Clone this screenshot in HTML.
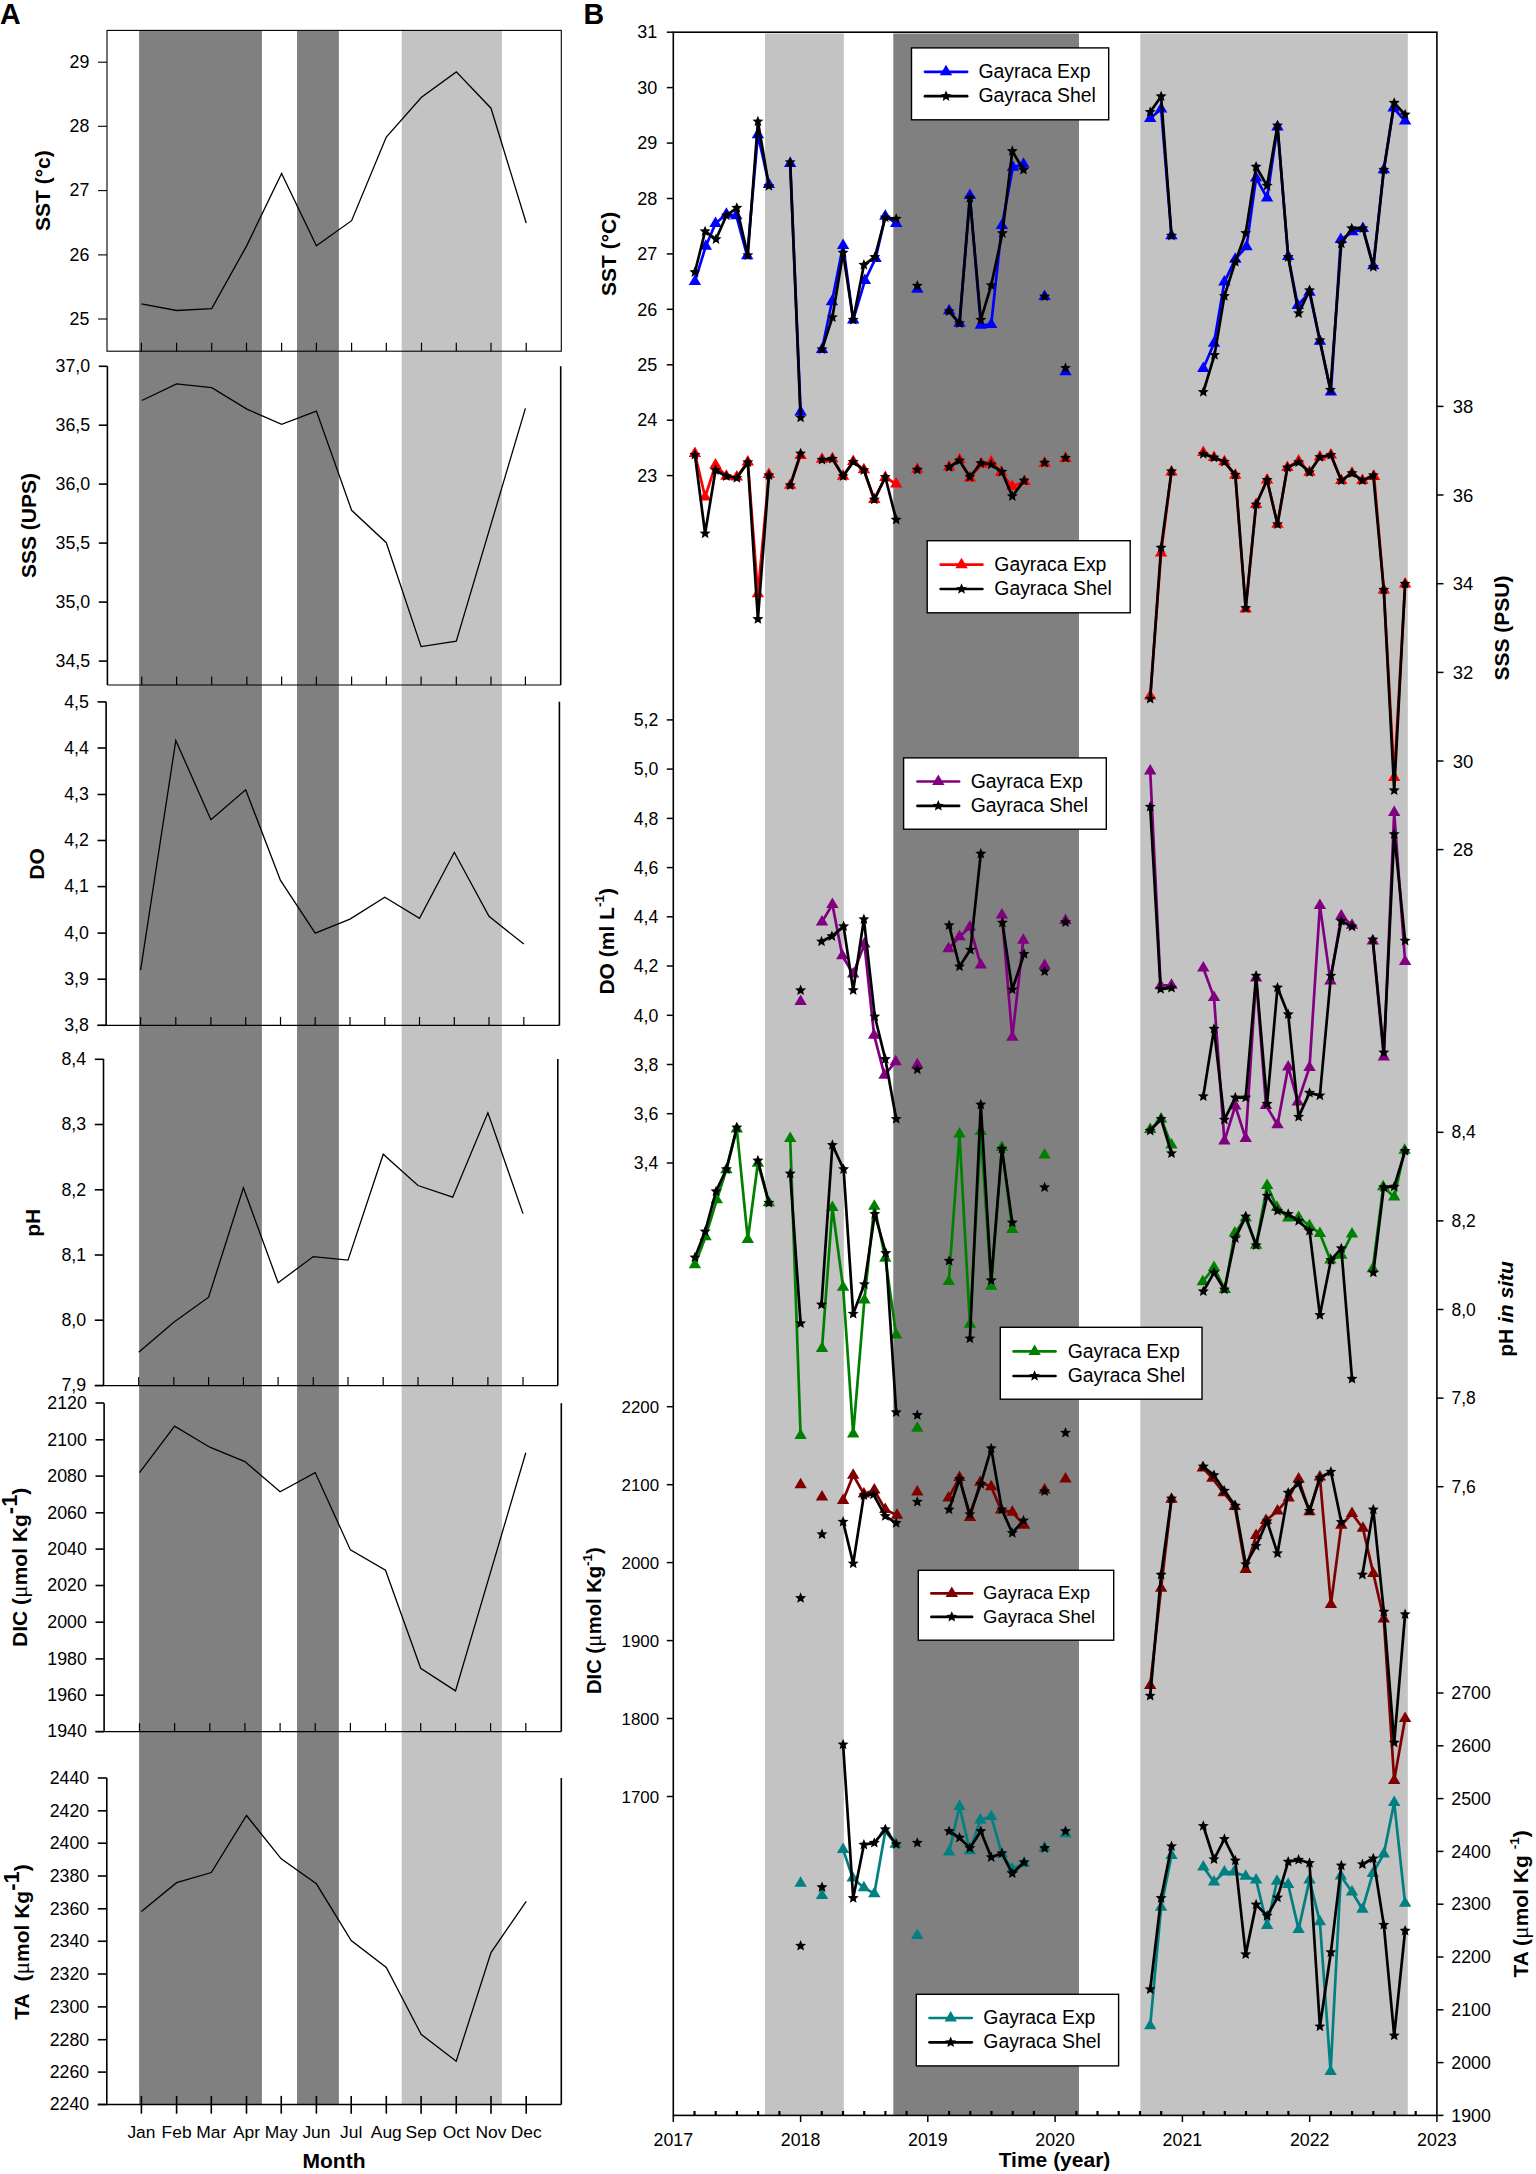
<!DOCTYPE html>
<html><head><meta charset="utf-8"><title>Figure</title>
<style>html,body{margin:0;padding:0;background:#fff}svg{display:block}</style></head>
<body>
<svg width="1536" height="2174" viewBox="0 0 1536 2174" font-family='"Liberation Sans", sans-serif'>
<rect width="1536" height="2174" fill="#fff"/>
<g id="panelA">
<rect x="139.1" y="30" width="122.8" height="2074.5" fill="#808080"/>
<rect x="297.0" y="31" width="41.9" height="2073.5" fill="#808080"/>
<rect x="401.7" y="30" width="100.2" height="2074.5" fill="#c3c3c3"/>
<rect x="107.0" y="30.4" width="454.3" height="320.8" fill="none" stroke="#000" stroke-width="1.1"/>
<line x1="98.0" x2="107.0" y1="62.2" y2="62.2" stroke="#000" stroke-width="1.1"/>
<text x="89.4" y="68.0" font-size="17.8" text-anchor="end">29</text>
<line x1="98.0" x2="107.0" y1="126.3" y2="126.3" stroke="#000" stroke-width="1.1"/>
<text x="89.4" y="132.1" font-size="17.8" text-anchor="end">28</text>
<line x1="98.0" x2="107.0" y1="190.6" y2="190.6" stroke="#000" stroke-width="1.1"/>
<text x="89.4" y="196.4" font-size="17.8" text-anchor="end">27</text>
<line x1="98.0" x2="107.0" y1="254.9" y2="254.9" stroke="#000" stroke-width="1.1"/>
<text x="89.4" y="260.7" font-size="17.8" text-anchor="end">26</text>
<line x1="98.0" x2="107.0" y1="319.0" y2="319.0" stroke="#000" stroke-width="1.1"/>
<text x="89.4" y="324.8" font-size="17.8" text-anchor="end">25</text>
<line x1="141.4" x2="141.4" y1="342.7" y2="351.2" stroke="#000" stroke-width="1.2"/>
<line x1="176.6" x2="176.6" y1="342.7" y2="351.2" stroke="#000" stroke-width="1.2"/>
<line x1="211.7" x2="211.7" y1="342.7" y2="351.2" stroke="#000" stroke-width="1.2"/>
<line x1="246.5" x2="246.5" y1="342.7" y2="351.2" stroke="#000" stroke-width="1.2"/>
<line x1="281.6" x2="281.6" y1="342.7" y2="351.2" stroke="#000" stroke-width="1.2"/>
<line x1="316.4" x2="316.4" y1="342.7" y2="351.2" stroke="#000" stroke-width="1.2"/>
<line x1="351.6" x2="351.6" y1="342.7" y2="351.2" stroke="#000" stroke-width="1.2"/>
<line x1="386.3" x2="386.3" y1="342.7" y2="351.2" stroke="#000" stroke-width="1.2"/>
<line x1="421.5" x2="421.5" y1="342.7" y2="351.2" stroke="#000" stroke-width="1.2"/>
<line x1="456.3" x2="456.3" y1="342.7" y2="351.2" stroke="#000" stroke-width="1.2"/>
<line x1="491.0" x2="491.0" y1="342.7" y2="351.2" stroke="#000" stroke-width="1.2"/>
<line x1="526.2" x2="526.2" y1="342.7" y2="351.2" stroke="#000" stroke-width="1.2"/>
<path d="M141.4 303.9 L176.6 310.5 L211.7 308.6 L246.5 246.1 L281.6 173.4 L316.4 245.7 L351.6 220.7 L386.3 137.1 L421.5 97.3 L456.3 71.9 L491.0 108.2 L526.2 223.0" fill="none" stroke="#000" stroke-width="1.3" stroke-linejoin="miter"/>
<path d="M107.4 366.2V685.0M560.7 685.0V366.2" fill="none" stroke="#000" stroke-width="1.6"/>
<line x1="107.4" x2="560.7" y1="685.0" y2="685.0" stroke="#000" stroke-width="1.2"/>
<line x1="98.8" x2="107.4" y1="366.3" y2="366.3" stroke="#000" stroke-width="1.6"/>
<text x="90.2" y="372.1" font-size="17.8" text-anchor="end">37,0</text>
<line x1="98.8" x2="107.4" y1="425.2" y2="425.2" stroke="#000" stroke-width="1.6"/>
<text x="90.2" y="431.0" font-size="17.8" text-anchor="end">36,5</text>
<line x1="98.8" x2="107.4" y1="484.1" y2="484.1" stroke="#000" stroke-width="1.6"/>
<text x="90.2" y="489.9" font-size="17.8" text-anchor="end">36,0</text>
<line x1="98.8" x2="107.4" y1="543.1" y2="543.1" stroke="#000" stroke-width="1.6"/>
<text x="90.2" y="548.9" font-size="17.8" text-anchor="end">35,5</text>
<line x1="98.8" x2="107.4" y1="602.1" y2="602.1" stroke="#000" stroke-width="1.6"/>
<text x="90.2" y="607.9" font-size="17.8" text-anchor="end">35,0</text>
<line x1="98.8" x2="107.4" y1="661.1" y2="661.1" stroke="#000" stroke-width="1.6"/>
<text x="90.2" y="666.9" font-size="17.8" text-anchor="end">34,5</text>
<line x1="141.8" x2="141.8" y1="676.5" y2="685.0" stroke="#000" stroke-width="1.2"/>
<line x1="176.6" x2="176.6" y1="676.5" y2="685.0" stroke="#000" stroke-width="1.2"/>
<line x1="211.7" x2="211.7" y1="676.5" y2="685.0" stroke="#000" stroke-width="1.2"/>
<line x1="246.9" x2="246.9" y1="676.5" y2="685.0" stroke="#000" stroke-width="1.2"/>
<line x1="281.6" x2="281.6" y1="676.5" y2="685.0" stroke="#000" stroke-width="1.2"/>
<line x1="316.4" x2="316.4" y1="676.5" y2="685.0" stroke="#000" stroke-width="1.2"/>
<line x1="351.6" x2="351.6" y1="676.5" y2="685.0" stroke="#000" stroke-width="1.2"/>
<line x1="386.3" x2="386.3" y1="676.5" y2="685.0" stroke="#000" stroke-width="1.2"/>
<line x1="421.1" x2="421.1" y1="676.5" y2="685.0" stroke="#000" stroke-width="1.2"/>
<line x1="456.3" x2="456.3" y1="676.5" y2="685.0" stroke="#000" stroke-width="1.2"/>
<line x1="491.0" x2="491.0" y1="676.5" y2="685.0" stroke="#000" stroke-width="1.2"/>
<line x1="525.4" x2="525.4" y1="676.5" y2="685.0" stroke="#000" stroke-width="1.2"/>
<path d="M141.8 400.5 L176.6 383.8 L211.7 387.7 L246.9 409.1 L281.6 424.4 L316.4 411.1 L351.6 510.3 L386.3 542.7 L421.1 646.6 L456.3 641.2 L525.4 408.4" fill="none" stroke="#000" stroke-width="1.3" stroke-linejoin="miter"/>
<path d="M106.1 701.7V1025.4M559.4 1025.4V701.7" fill="none" stroke="#000" stroke-width="1.6"/>
<line x1="97.5" x2="559.4" y1="1025.4" y2="1025.4" stroke="#000" stroke-width="1.2"/>
<line x1="97.5" x2="106.1" y1="701.9" y2="701.9" stroke="#000" stroke-width="1.6"/>
<text x="88.9" y="707.7" font-size="17.8" text-anchor="end">4,5</text>
<line x1="97.5" x2="106.1" y1="748.0" y2="748.0" stroke="#000" stroke-width="1.6"/>
<text x="88.9" y="753.8" font-size="17.8" text-anchor="end">4,4</text>
<line x1="97.5" x2="106.1" y1="794.5" y2="794.5" stroke="#000" stroke-width="1.6"/>
<text x="88.9" y="800.3" font-size="17.8" text-anchor="end">4,3</text>
<line x1="97.5" x2="106.1" y1="840.5" y2="840.5" stroke="#000" stroke-width="1.6"/>
<text x="88.9" y="846.3" font-size="17.8" text-anchor="end">4,2</text>
<line x1="97.5" x2="106.1" y1="886.6" y2="886.6" stroke="#000" stroke-width="1.6"/>
<text x="88.9" y="892.4" font-size="17.8" text-anchor="end">4,1</text>
<line x1="97.5" x2="106.1" y1="933.1" y2="933.1" stroke="#000" stroke-width="1.6"/>
<text x="88.9" y="938.9" font-size="17.8" text-anchor="end">4,0</text>
<line x1="97.5" x2="106.1" y1="979.2" y2="979.2" stroke="#000" stroke-width="1.6"/>
<text x="88.9" y="985.0" font-size="17.8" text-anchor="end">3,9</text>
<line x1="97.5" x2="106.1" y1="1025.3" y2="1025.3" stroke="#000" stroke-width="1.6"/>
<text x="88.9" y="1031.1" font-size="17.8" text-anchor="end">3,8</text>
<line x1="140.6" x2="140.6" y1="1016.9000000000001" y2="1025.4" stroke="#000" stroke-width="1.2"/>
<line x1="175.8" x2="175.8" y1="1016.9000000000001" y2="1025.4" stroke="#000" stroke-width="1.2"/>
<line x1="210.9" x2="210.9" y1="1016.9000000000001" y2="1025.4" stroke="#000" stroke-width="1.2"/>
<line x1="245.7" x2="245.7" y1="1016.9000000000001" y2="1025.4" stroke="#000" stroke-width="1.2"/>
<line x1="280.5" x2="280.5" y1="1016.9000000000001" y2="1025.4" stroke="#000" stroke-width="1.2"/>
<line x1="315.2" x2="315.2" y1="1016.9000000000001" y2="1025.4" stroke="#000" stroke-width="1.2"/>
<line x1="350.0" x2="350.0" y1="1016.9000000000001" y2="1025.4" stroke="#000" stroke-width="1.2"/>
<line x1="384.8" x2="384.8" y1="1016.9000000000001" y2="1025.4" stroke="#000" stroke-width="1.2"/>
<line x1="419.5" x2="419.5" y1="1016.9000000000001" y2="1025.4" stroke="#000" stroke-width="1.2"/>
<line x1="454.3" x2="454.3" y1="1016.9000000000001" y2="1025.4" stroke="#000" stroke-width="1.2"/>
<line x1="489.0" x2="489.0" y1="1016.9000000000001" y2="1025.4" stroke="#000" stroke-width="1.2"/>
<line x1="523.8" x2="523.8" y1="1016.9000000000001" y2="1025.4" stroke="#000" stroke-width="1.2"/>
<path d="M140.6 970.2 L175.8 740.5 L210.9 819.8 L245.7 789.8 L280.5 880.4 L315.2 933.1 L350.0 919.1 L384.8 897.2 L419.5 918.3 L454.3 852.3 L489.0 916.3 L523.8 944.1" fill="none" stroke="#000" stroke-width="1.3" stroke-linejoin="miter"/>
<path d="M103.5 1059.1V1385.6M557.8 1385.6V1059.1" fill="none" stroke="#000" stroke-width="1.6"/>
<line x1="94.8" x2="557.8" y1="1385.6" y2="1385.6" stroke="#000" stroke-width="1.2"/>
<line x1="94.8" x2="103.5" y1="1059.3" y2="1059.3" stroke="#000" stroke-width="1.6"/>
<text x="86.2" y="1065.1" font-size="17.8" text-anchor="end">8,4</text>
<line x1="94.8" x2="103.5" y1="1124.5" y2="1124.5" stroke="#000" stroke-width="1.6"/>
<text x="86.2" y="1130.3" font-size="17.8" text-anchor="end">8,3</text>
<line x1="94.8" x2="103.5" y1="1189.8" y2="1189.8" stroke="#000" stroke-width="1.6"/>
<text x="86.2" y="1195.6" font-size="17.8" text-anchor="end">8,2</text>
<line x1="94.8" x2="103.5" y1="1255.0" y2="1255.0" stroke="#000" stroke-width="1.6"/>
<text x="86.2" y="1260.8" font-size="17.8" text-anchor="end">8,1</text>
<line x1="94.8" x2="103.5" y1="1320.2" y2="1320.2" stroke="#000" stroke-width="1.6"/>
<text x="86.2" y="1326.0" font-size="17.8" text-anchor="end">8,0</text>
<line x1="94.8" x2="103.5" y1="1385.5" y2="1385.5" stroke="#000" stroke-width="1.6"/>
<text x="86.2" y="1391.3" font-size="17.8" text-anchor="end">7,9</text>
<line x1="138.7" x2="138.7" y1="1377.1" y2="1385.6" stroke="#000" stroke-width="1.2"/>
<line x1="173.8" x2="173.8" y1="1377.1" y2="1385.6" stroke="#000" stroke-width="1.2"/>
<line x1="208.6" x2="208.6" y1="1377.1" y2="1385.6" stroke="#000" stroke-width="1.2"/>
<line x1="243.4" x2="243.4" y1="1377.1" y2="1385.6" stroke="#000" stroke-width="1.2"/>
<line x1="278.1" x2="278.1" y1="1377.1" y2="1385.6" stroke="#000" stroke-width="1.2"/>
<line x1="313.3" x2="313.3" y1="1377.1" y2="1385.6" stroke="#000" stroke-width="1.2"/>
<line x1="348.0" x2="348.0" y1="1377.1" y2="1385.6" stroke="#000" stroke-width="1.2"/>
<line x1="383.2" x2="383.2" y1="1377.1" y2="1385.6" stroke="#000" stroke-width="1.2"/>
<line x1="418.0" x2="418.0" y1="1377.1" y2="1385.6" stroke="#000" stroke-width="1.2"/>
<line x1="452.7" x2="452.7" y1="1377.1" y2="1385.6" stroke="#000" stroke-width="1.2"/>
<line x1="487.9" x2="487.9" y1="1377.1" y2="1385.6" stroke="#000" stroke-width="1.2"/>
<line x1="523.0" x2="523.0" y1="1377.1" y2="1385.6" stroke="#000" stroke-width="1.2"/>
<path d="M138.7 1352.3 L173.8 1322.2 L208.6 1297.2 L243.4 1187.8 L278.1 1282.7 L313.3 1256.6 L348.0 1260.1 L383.2 1154.2 L418.0 1185.5 L452.7 1197.2 L487.9 1112.8 L523.0 1213.6" fill="none" stroke="#000" stroke-width="1.3" stroke-linejoin="miter"/>
<path d="M104.1 1403.2V1731.6M561.3 1731.6V1403.2" fill="none" stroke="#000" stroke-width="1.6"/>
<line x1="95.5" x2="561.3" y1="1731.6" y2="1731.6" stroke="#000" stroke-width="1.2"/>
<line x1="95.5" x2="104.1" y1="1403.0" y2="1403.0" stroke="#000" stroke-width="1.6"/>
<text x="86.9" y="1408.8" font-size="17.8" text-anchor="end">2120</text>
<line x1="95.5" x2="104.1" y1="1439.8" y2="1439.8" stroke="#000" stroke-width="1.6"/>
<text x="86.9" y="1445.6" font-size="17.8" text-anchor="end">2100</text>
<line x1="95.5" x2="104.1" y1="1476.1" y2="1476.1" stroke="#000" stroke-width="1.6"/>
<text x="86.9" y="1481.9" font-size="17.8" text-anchor="end">2080</text>
<line x1="95.5" x2="104.1" y1="1512.8" y2="1512.8" stroke="#000" stroke-width="1.6"/>
<text x="86.9" y="1518.6" font-size="17.8" text-anchor="end">2060</text>
<line x1="95.5" x2="104.1" y1="1549.1" y2="1549.1" stroke="#000" stroke-width="1.6"/>
<text x="86.9" y="1554.9" font-size="17.8" text-anchor="end">2040</text>
<line x1="95.5" x2="104.1" y1="1585.5" y2="1585.5" stroke="#000" stroke-width="1.6"/>
<text x="86.9" y="1591.3" font-size="17.8" text-anchor="end">2020</text>
<line x1="95.5" x2="104.1" y1="1622.2" y2="1622.2" stroke="#000" stroke-width="1.6"/>
<text x="86.9" y="1628.0" font-size="17.8" text-anchor="end">2000</text>
<line x1="95.5" x2="104.1" y1="1658.9" y2="1658.9" stroke="#000" stroke-width="1.6"/>
<text x="86.9" y="1664.7" font-size="17.8" text-anchor="end">1980</text>
<line x1="95.5" x2="104.1" y1="1695.2" y2="1695.2" stroke="#000" stroke-width="1.6"/>
<text x="86.9" y="1701.0" font-size="17.8" text-anchor="end">1960</text>
<line x1="95.5" x2="104.1" y1="1731.6" y2="1731.6" stroke="#000" stroke-width="1.6"/>
<text x="86.9" y="1737.4" font-size="17.8" text-anchor="end">1940</text>
<line x1="139.5" x2="139.5" y1="1723.1" y2="1731.6" stroke="#000" stroke-width="1.2"/>
<line x1="174.6" x2="174.6" y1="1723.1" y2="1731.6" stroke="#000" stroke-width="1.2"/>
<line x1="209.8" x2="209.8" y1="1723.1" y2="1731.6" stroke="#000" stroke-width="1.2"/>
<line x1="244.9" x2="244.9" y1="1723.1" y2="1731.6" stroke="#000" stroke-width="1.2"/>
<line x1="280.1" x2="280.1" y1="1723.1" y2="1731.6" stroke="#000" stroke-width="1.2"/>
<line x1="315.2" x2="315.2" y1="1723.1" y2="1731.6" stroke="#000" stroke-width="1.2"/>
<line x1="350.4" x2="350.4" y1="1723.1" y2="1731.6" stroke="#000" stroke-width="1.2"/>
<line x1="385.5" x2="385.5" y1="1723.1" y2="1731.6" stroke="#000" stroke-width="1.2"/>
<line x1="420.7" x2="420.7" y1="1723.1" y2="1731.6" stroke="#000" stroke-width="1.2"/>
<line x1="455.5" x2="455.5" y1="1723.1" y2="1731.6" stroke="#000" stroke-width="1.2"/>
<line x1="490.6" x2="490.6" y1="1723.1" y2="1731.6" stroke="#000" stroke-width="1.2"/>
<line x1="525.8" x2="525.8" y1="1723.1" y2="1731.6" stroke="#000" stroke-width="1.2"/>
<path d="M139.5 1472.6 L174.6 1426.1 L209.8 1447.2 L244.9 1461.6 L280.1 1491.7 L315.2 1472.6 L350.4 1549.9 L385.5 1570.2 L420.7 1668.3 L455.5 1690.9 L525.8 1452.7" fill="none" stroke="#000" stroke-width="1.3" stroke-linejoin="miter"/>
<path d="M106.8 1778.1V2104.5M561.3 2104.5V1778.1" fill="none" stroke="#000" stroke-width="1.6"/>
<line x1="97.8" x2="561.3" y1="2104.5" y2="2104.5" stroke="#000" stroke-width="1.6"/>
<line x1="97.8" x2="106.8" y1="1778.0" y2="1778.0" stroke="#000" stroke-width="1.6"/>
<text x="89.2" y="1783.8" font-size="17.8" text-anchor="end">2440</text>
<line x1="97.8" x2="106.8" y1="1810.8" y2="1810.8" stroke="#000" stroke-width="1.6"/>
<text x="89.2" y="1816.6" font-size="17.8" text-anchor="end">2420</text>
<line x1="97.8" x2="106.8" y1="1843.2" y2="1843.2" stroke="#000" stroke-width="1.6"/>
<text x="89.2" y="1849.0" font-size="17.8" text-anchor="end">2400</text>
<line x1="97.8" x2="106.8" y1="1876.0" y2="1876.0" stroke="#000" stroke-width="1.6"/>
<text x="89.2" y="1881.8" font-size="17.8" text-anchor="end">2380</text>
<line x1="97.8" x2="106.8" y1="1908.8" y2="1908.8" stroke="#000" stroke-width="1.6"/>
<text x="89.2" y="1914.6" font-size="17.8" text-anchor="end">2360</text>
<line x1="97.8" x2="106.8" y1="1941.25" y2="1941.25" stroke="#000" stroke-width="1.6"/>
<text x="89.2" y="1947.0" font-size="17.8" text-anchor="end">2340</text>
<line x1="97.8" x2="106.8" y1="1974.0" y2="1974.0" stroke="#000" stroke-width="1.6"/>
<text x="89.2" y="1979.8" font-size="17.8" text-anchor="end">2320</text>
<line x1="97.8" x2="106.8" y1="2006.9" y2="2006.9" stroke="#000" stroke-width="1.6"/>
<text x="89.2" y="2012.7" font-size="17.8" text-anchor="end">2300</text>
<line x1="97.8" x2="106.8" y1="2039.7" y2="2039.7" stroke="#000" stroke-width="1.6"/>
<text x="89.2" y="2045.5" font-size="17.8" text-anchor="end">2280</text>
<line x1="97.8" x2="106.8" y1="2072.1" y2="2072.1" stroke="#000" stroke-width="1.6"/>
<text x="89.2" y="2077.9" font-size="17.8" text-anchor="end">2260</text>
<line x1="97.8" x2="106.8" y1="2104.5" y2="2104.5" stroke="#000" stroke-width="1.6"/>
<text x="89.2" y="2110.3" font-size="17.8" text-anchor="end">2240</text>
<line x1="141.4" x2="141.4" y1="2095.9" y2="2113.7" stroke="#000" stroke-width="1.6"/>
<line x1="176.6" x2="176.6" y1="2095.9" y2="2113.7" stroke="#000" stroke-width="1.6"/>
<line x1="211.3" x2="211.3" y1="2095.9" y2="2113.7" stroke="#000" stroke-width="1.6"/>
<line x1="246.5" x2="246.5" y1="2095.9" y2="2113.7" stroke="#000" stroke-width="1.6"/>
<line x1="281.25" x2="281.25" y1="2095.9" y2="2113.7" stroke="#000" stroke-width="1.6"/>
<line x1="316.4" x2="316.4" y1="2095.9" y2="2113.7" stroke="#000" stroke-width="1.6"/>
<line x1="351.2" x2="351.2" y1="2095.9" y2="2113.7" stroke="#000" stroke-width="1.6"/>
<line x1="386.3" x2="386.3" y1="2095.9" y2="2113.7" stroke="#000" stroke-width="1.6"/>
<line x1="421.1" x2="421.1" y1="2095.9" y2="2113.7" stroke="#000" stroke-width="1.6"/>
<line x1="456.25" x2="456.25" y1="2095.9" y2="2113.7" stroke="#000" stroke-width="1.6"/>
<line x1="491.0" x2="491.0" y1="2095.9" y2="2113.7" stroke="#000" stroke-width="1.6"/>
<line x1="526.2" x2="526.2" y1="2095.9" y2="2113.7" stroke="#000" stroke-width="1.6"/>
<path d="M141.4 1911.6 L176.6 1882.7 L211.3 1872.5 L246.5 1815.5 L281.2 1858.8 L316.4 1883.8 L351.2 1940.5 L386.3 1967.4 L421.1 2034.2 L456.2 2061.2 L491.0 1952.6 L526.2 1901.4" fill="none" stroke="#000" stroke-width="1.3" stroke-linejoin="miter"/>
<text transform="translate(49.7 190.6) rotate(-90)" font-size="21" font-weight="bold" text-anchor="middle">SST (°c)</text>
<text transform="translate(36 525.5) rotate(-90)" font-size="21" font-weight="bold" text-anchor="middle">SSS (UPS)</text>
<text transform="translate(44.1 864) rotate(-90)" font-size="21" font-weight="bold" text-anchor="middle">DO</text>
<text transform="translate(40.2 1222.8) rotate(-90)" font-size="21" font-weight="bold" text-anchor="middle">pH</text>
<text transform="translate(27.1 1567.3) rotate(-90)" font-size="21" font-weight="bold" text-anchor="middle">DIC (<tspan font-family='"Liberation Serif", "DejaVu Serif", serif' font-weight="normal" font-size="23.5">μ</tspan>mol Kg<tspan dy="-10.3" font-size="22">-1</tspan><tspan dy="10.3">)</tspan></text>
<text transform="translate(29.3 1942) rotate(-90)" font-size="21" font-weight="bold" text-anchor="middle">TA&#160;&#160;(<tspan font-family='"Liberation Serif", "DejaVu Serif", serif' font-weight="normal" font-size="23.5">μ</tspan>mol Kg<tspan dy="-10.3" font-size="22">-1</tspan><tspan dy="10.3">)</tspan></text>
<text x="141.4" y="2138.1" font-size="17.4" text-anchor="middle">Jan</text>
<text x="176.6" y="2138.1" font-size="17.4" text-anchor="middle">Feb</text>
<text x="211.3" y="2138.1" font-size="17.4" text-anchor="middle">Mar</text>
<text x="246.5" y="2138.1" font-size="17.4" text-anchor="middle">Apr</text>
<text x="281.25" y="2138.1" font-size="17.4" text-anchor="middle">May</text>
<text x="316.4" y="2138.1" font-size="17.4" text-anchor="middle">Jun</text>
<text x="351.2" y="2138.1" font-size="17.4" text-anchor="middle">Jul</text>
<text x="386.3" y="2138.1" font-size="17.4" text-anchor="middle">Aug</text>
<text x="421.1" y="2138.1" font-size="17.4" text-anchor="middle">Sep</text>
<text x="456.25" y="2138.1" font-size="17.4" text-anchor="middle">Oct</text>
<text x="491.0" y="2138.1" font-size="17.4" text-anchor="middle">Nov</text>
<text x="526.2" y="2138.1" font-size="17.4" text-anchor="middle">Dec</text>
<text x="334" y="2168" font-size="21" font-weight="bold" text-anchor="middle">Month</text>
<text x="0" y="23.8" font-size="28.6" font-weight="bold">A</text>
</g>
<g id="panelB">
<rect x="765" y="33.5" width="78.8" height="2081.4" fill="#c3c3c3"/>
<rect x="893.3" y="33.5" width="185.7" height="2081.4" fill="#808080"/>
<rect x="1140.3" y="33.5" width="267.5" height="2081.4" fill="#c3c3c3"/>
<rect x="673.3" y="32.2" width="763.6" height="2083.2" fill="none" stroke="#000" stroke-width="1.6"/>
<line x1="666.8" x2="673.3" y1="32.2" y2="32.2" stroke="#000" stroke-width="1.5"/>
<text x="657.3" y="38.4" font-size="18.0" text-anchor="end">31</text>
<line x1="666.8" x2="673.3" y1="87.6" y2="87.6" stroke="#000" stroke-width="1.5"/>
<text x="657.3" y="93.8" font-size="18.0" text-anchor="end">30</text>
<line x1="666.8" x2="673.3" y1="143.1" y2="143.1" stroke="#000" stroke-width="1.5"/>
<text x="657.3" y="149.3" font-size="18.0" text-anchor="end">29</text>
<line x1="666.8" x2="673.3" y1="198.5" y2="198.5" stroke="#000" stroke-width="1.5"/>
<text x="657.3" y="204.7" font-size="18.0" text-anchor="end">28</text>
<line x1="666.8" x2="673.3" y1="253.9" y2="253.9" stroke="#000" stroke-width="1.5"/>
<text x="657.3" y="260.1" font-size="18.0" text-anchor="end">27</text>
<line x1="666.8" x2="673.3" y1="309.3" y2="309.3" stroke="#000" stroke-width="1.5"/>
<text x="657.3" y="315.5" font-size="18.0" text-anchor="end">26</text>
<line x1="666.8" x2="673.3" y1="364.8" y2="364.8" stroke="#000" stroke-width="1.5"/>
<text x="657.3" y="371.0" font-size="18.0" text-anchor="end">25</text>
<line x1="666.8" x2="673.3" y1="420.2" y2="420.2" stroke="#000" stroke-width="1.5"/>
<text x="657.3" y="426.4" font-size="18.0" text-anchor="end">24</text>
<line x1="666.8" x2="673.3" y1="475.6" y2="475.6" stroke="#000" stroke-width="1.5"/>
<text x="657.3" y="481.8" font-size="18.0" text-anchor="end">23</text>
<line x1="666.8" x2="673.3" y1="719.9" y2="719.9" stroke="#000" stroke-width="1.5"/>
<text x="658.3" y="726.1" font-size="17.7" text-anchor="end">5,2</text>
<line x1="666.8" x2="673.3" y1="769.1" y2="769.1" stroke="#000" stroke-width="1.5"/>
<text x="658.3" y="775.3" font-size="17.7" text-anchor="end">5,0</text>
<line x1="666.8" x2="673.3" y1="818.4" y2="818.4" stroke="#000" stroke-width="1.5"/>
<text x="658.3" y="824.6" font-size="17.7" text-anchor="end">4,8</text>
<line x1="666.8" x2="673.3" y1="867.6" y2="867.6" stroke="#000" stroke-width="1.5"/>
<text x="658.3" y="873.8" font-size="17.7" text-anchor="end">4,6</text>
<line x1="666.8" x2="673.3" y1="916.8" y2="916.8" stroke="#000" stroke-width="1.5"/>
<text x="658.3" y="923.0" font-size="17.7" text-anchor="end">4,4</text>
<line x1="666.8" x2="673.3" y1="966.0" y2="966.0" stroke="#000" stroke-width="1.5"/>
<text x="658.3" y="972.2" font-size="17.7" text-anchor="end">4,2</text>
<line x1="666.8" x2="673.3" y1="1015.3" y2="1015.3" stroke="#000" stroke-width="1.5"/>
<text x="658.3" y="1021.5" font-size="17.7" text-anchor="end">4,0</text>
<line x1="666.8" x2="673.3" y1="1064.5" y2="1064.5" stroke="#000" stroke-width="1.5"/>
<text x="658.3" y="1070.7" font-size="17.7" text-anchor="end">3,8</text>
<line x1="666.8" x2="673.3" y1="1113.7" y2="1113.7" stroke="#000" stroke-width="1.5"/>
<text x="658.3" y="1119.9" font-size="17.7" text-anchor="end">3,6</text>
<line x1="666.8" x2="673.3" y1="1163.0" y2="1163.0" stroke="#000" stroke-width="1.5"/>
<text x="658.3" y="1169.2" font-size="17.7" text-anchor="end">3,4</text>
<line x1="666.8" x2="673.3" y1="1406.7" y2="1406.7" stroke="#000" stroke-width="1.5"/>
<text x="659.1" y="1412.9" font-size="16.9" text-anchor="end">2200</text>
<line x1="666.8" x2="673.3" y1="1484.7" y2="1484.7" stroke="#000" stroke-width="1.5"/>
<text x="659.1" y="1490.9" font-size="16.9" text-anchor="end">2100</text>
<line x1="666.8" x2="673.3" y1="1562.6" y2="1562.6" stroke="#000" stroke-width="1.5"/>
<text x="659.1" y="1568.8" font-size="16.9" text-anchor="end">2000</text>
<line x1="666.8" x2="673.3" y1="1640.6" y2="1640.6" stroke="#000" stroke-width="1.5"/>
<text x="659.1" y="1646.8" font-size="16.9" text-anchor="end">1900</text>
<line x1="666.8" x2="673.3" y1="1718.5" y2="1718.5" stroke="#000" stroke-width="1.5"/>
<text x="659.1" y="1724.7" font-size="16.9" text-anchor="end">1800</text>
<line x1="666.8" x2="673.3" y1="1796.5" y2="1796.5" stroke="#000" stroke-width="1.5"/>
<text x="659.1" y="1802.7" font-size="16.9" text-anchor="end">1700</text>
<line x1="1436.9" x2="1443.5" y1="406.4" y2="406.4" stroke="#000" stroke-width="1.5"/>
<text x="1452.7" y="412.9" font-size="18.5" text-anchor="start">38</text>
<line x1="1436.9" x2="1443.5" y1="495.0" y2="495.0" stroke="#000" stroke-width="1.5"/>
<text x="1452.7" y="501.5" font-size="18.5" text-anchor="start">36</text>
<line x1="1436.9" x2="1443.5" y1="583.7" y2="583.7" stroke="#000" stroke-width="1.5"/>
<text x="1452.7" y="590.2" font-size="18.5" text-anchor="start">34</text>
<line x1="1436.9" x2="1443.5" y1="672.4" y2="672.4" stroke="#000" stroke-width="1.5"/>
<text x="1452.7" y="678.9" font-size="18.5" text-anchor="start">32</text>
<line x1="1436.9" x2="1443.5" y1="761.0" y2="761.0" stroke="#000" stroke-width="1.5"/>
<text x="1452.7" y="767.5" font-size="18.5" text-anchor="start">30</text>
<line x1="1436.9" x2="1443.5" y1="849.6" y2="849.6" stroke="#000" stroke-width="1.5"/>
<text x="1452.7" y="856.1" font-size="18.5" text-anchor="start">28</text>
<line x1="1436.9" x2="1443.5" y1="1132.3" y2="1132.3" stroke="#000" stroke-width="1.5"/>
<text x="1451.5" y="1138.3" font-size="17.5" text-anchor="start">8,4</text>
<line x1="1436.9" x2="1443.5" y1="1220.9" y2="1220.9" stroke="#000" stroke-width="1.5"/>
<text x="1451.5" y="1226.9" font-size="17.5" text-anchor="start">8,2</text>
<line x1="1436.9" x2="1443.5" y1="1309.5" y2="1309.5" stroke="#000" stroke-width="1.5"/>
<text x="1451.5" y="1315.5" font-size="17.5" text-anchor="start">8,0</text>
<line x1="1436.9" x2="1443.5" y1="1398.1" y2="1398.1" stroke="#000" stroke-width="1.5"/>
<text x="1451.5" y="1404.1" font-size="17.5" text-anchor="start">7,8</text>
<line x1="1436.9" x2="1443.5" y1="1486.7" y2="1486.7" stroke="#000" stroke-width="1.5"/>
<text x="1451.5" y="1492.7" font-size="17.5" text-anchor="start">7,6</text>
<line x1="1436.9" x2="1443.5" y1="1693.0" y2="1693.0" stroke="#000" stroke-width="1.5"/>
<text x="1451.3" y="1699.1" font-size="17.8" text-anchor="start">2700</text>
<line x1="1436.9" x2="1443.5" y1="1745.8" y2="1745.8" stroke="#000" stroke-width="1.5"/>
<text x="1451.3" y="1751.9" font-size="17.8" text-anchor="start">2600</text>
<line x1="1436.9" x2="1443.5" y1="1798.6" y2="1798.6" stroke="#000" stroke-width="1.5"/>
<text x="1451.3" y="1804.7" font-size="17.8" text-anchor="start">2500</text>
<line x1="1436.9" x2="1443.5" y1="1851.4" y2="1851.4" stroke="#000" stroke-width="1.5"/>
<text x="1451.3" y="1857.5" font-size="17.8" text-anchor="start">2400</text>
<line x1="1436.9" x2="1443.5" y1="1904.2" y2="1904.2" stroke="#000" stroke-width="1.5"/>
<text x="1451.3" y="1910.3" font-size="17.8" text-anchor="start">2300</text>
<line x1="1436.9" x2="1443.5" y1="1957.0" y2="1957.0" stroke="#000" stroke-width="1.5"/>
<text x="1451.3" y="1963.1" font-size="17.8" text-anchor="start">2200</text>
<line x1="1436.9" x2="1443.5" y1="2009.8" y2="2009.8" stroke="#000" stroke-width="1.5"/>
<text x="1451.3" y="2015.9" font-size="17.8" text-anchor="start">2100</text>
<line x1="1436.9" x2="1443.5" y1="2062.6" y2="2062.6" stroke="#000" stroke-width="1.5"/>
<text x="1451.3" y="2068.7" font-size="17.8" text-anchor="start">2000</text>
<line x1="1436.9" x2="1443.5" y1="2115.4" y2="2115.4" stroke="#000" stroke-width="1.5"/>
<text x="1451.3" y="2121.5" font-size="17.8" text-anchor="start">1900</text>
<line x1="673.3" x2="673.3" y1="2115.4" y2="2122.0" stroke="#000" stroke-width="1.5"/>
<text x="673.3" y="2145.9" font-size="17.8" text-anchor="middle">2017</text>
<line x1="694.5" x2="694.5" y1="2111.0" y2="2115.4" stroke="#000" stroke-width="2.2"/>
<line x1="715.7" x2="715.7" y1="2111.0" y2="2115.4" stroke="#000" stroke-width="2.2"/>
<line x1="736.9" x2="736.9" y1="2111.0" y2="2115.4" stroke="#000" stroke-width="2.2"/>
<line x1="758.1" x2="758.1" y1="2111.0" y2="2115.4" stroke="#000" stroke-width="2.2"/>
<line x1="779.4" x2="779.4" y1="2111.0" y2="2115.4" stroke="#000" stroke-width="2.2"/>
<line x1="800.6" x2="800.6" y1="2115.4" y2="2122.0" stroke="#000" stroke-width="1.5"/>
<text x="800.6" y="2145.9" font-size="17.8" text-anchor="middle">2018</text>
<line x1="821.8" x2="821.8" y1="2111.0" y2="2115.4" stroke="#000" stroke-width="2.2"/>
<line x1="843.0" x2="843.0" y1="2111.0" y2="2115.4" stroke="#000" stroke-width="2.2"/>
<line x1="864.2" x2="864.2" y1="2111.0" y2="2115.4" stroke="#000" stroke-width="2.2"/>
<line x1="885.4" x2="885.4" y1="2111.0" y2="2115.4" stroke="#000" stroke-width="2.2"/>
<line x1="906.6" x2="906.6" y1="2111.0" y2="2115.4" stroke="#000" stroke-width="2.2"/>
<line x1="927.8" x2="927.8" y1="2115.4" y2="2122.0" stroke="#000" stroke-width="1.5"/>
<text x="927.8" y="2145.9" font-size="17.8" text-anchor="middle">2019</text>
<line x1="949.1" x2="949.1" y1="2111.0" y2="2115.4" stroke="#000" stroke-width="2.2"/>
<line x1="970.3" x2="970.3" y1="2111.0" y2="2115.4" stroke="#000" stroke-width="2.2"/>
<line x1="991.5" x2="991.5" y1="2111.0" y2="2115.4" stroke="#000" stroke-width="2.2"/>
<line x1="1012.7" x2="1012.7" y1="2111.0" y2="2115.4" stroke="#000" stroke-width="2.2"/>
<line x1="1033.9" x2="1033.9" y1="2111.0" y2="2115.4" stroke="#000" stroke-width="2.2"/>
<line x1="1055.1" x2="1055.1" y1="2115.4" y2="2122.0" stroke="#000" stroke-width="1.5"/>
<text x="1055.1" y="2145.9" font-size="17.8" text-anchor="middle">2020</text>
<line x1="1076.3" x2="1076.3" y1="2111.0" y2="2115.4" stroke="#000" stroke-width="2.2"/>
<line x1="1097.5" x2="1097.5" y1="2111.0" y2="2115.4" stroke="#000" stroke-width="2.2"/>
<line x1="1118.7" x2="1118.7" y1="2111.0" y2="2115.4" stroke="#000" stroke-width="2.2"/>
<line x1="1140.0" x2="1140.0" y1="2111.0" y2="2115.4" stroke="#000" stroke-width="2.2"/>
<line x1="1161.2" x2="1161.2" y1="2111.0" y2="2115.4" stroke="#000" stroke-width="2.2"/>
<line x1="1182.4" x2="1182.4" y1="2115.4" y2="2122.0" stroke="#000" stroke-width="1.5"/>
<text x="1182.4" y="2145.9" font-size="17.8" text-anchor="middle">2021</text>
<line x1="1203.6" x2="1203.6" y1="2111.0" y2="2115.4" stroke="#000" stroke-width="2.2"/>
<line x1="1224.8" x2="1224.8" y1="2111.0" y2="2115.4" stroke="#000" stroke-width="2.2"/>
<line x1="1246.0" x2="1246.0" y1="2111.0" y2="2115.4" stroke="#000" stroke-width="2.2"/>
<line x1="1267.2" x2="1267.2" y1="2111.0" y2="2115.4" stroke="#000" stroke-width="2.2"/>
<line x1="1288.4" x2="1288.4" y1="2111.0" y2="2115.4" stroke="#000" stroke-width="2.2"/>
<line x1="1309.7" x2="1309.7" y1="2115.4" y2="2122.0" stroke="#000" stroke-width="1.5"/>
<text x="1309.7" y="2145.9" font-size="17.8" text-anchor="middle">2022</text>
<line x1="1330.9" x2="1330.9" y1="2111.0" y2="2115.4" stroke="#000" stroke-width="2.2"/>
<line x1="1352.1" x2="1352.1" y1="2111.0" y2="2115.4" stroke="#000" stroke-width="2.2"/>
<line x1="1373.3" x2="1373.3" y1="2111.0" y2="2115.4" stroke="#000" stroke-width="2.2"/>
<line x1="1394.5" x2="1394.5" y1="2111.0" y2="2115.4" stroke="#000" stroke-width="2.2"/>
<line x1="1415.7" x2="1415.7" y1="2111.0" y2="2115.4" stroke="#000" stroke-width="2.2"/>
<line x1="1436.9" x2="1436.9" y1="2115.4" y2="2122.0" stroke="#000" stroke-width="1.5"/>
<text x="1436.9" y="2145.9" font-size="17.8" text-anchor="middle">2023</text>
<text x="1054.5" y="2167" font-size="21" font-weight="bold" text-anchor="middle">Time (year)</text>
<text x="583.5" y="23.8" font-size="28.6" font-weight="bold">B</text>
<text transform="translate(615.9 253.9) rotate(-90)" font-size="21" font-weight="bold" text-anchor="middle">SST (°C)</text>
<text transform="translate(613.5 941.3) rotate(-90)" font-size="21" font-weight="bold" text-anchor="middle">DO (ml L<tspan dy="-9.2" font-size="13.5">-1</tspan><tspan dy="9.2">)</tspan></text>
<text transform="translate(600.8 1620.6) rotate(-90)" font-size="20.2" font-weight="bold" text-anchor="middle">DIC (<tspan font-family='"Liberation Serif", "DejaVu Serif", serif' font-weight="normal" font-size="23.5">μ</tspan>mol Kg<tspan dy="-9.2" font-size="13.5">-1</tspan><tspan dy="9.2">)</tspan></text>
<text transform="translate(1508.8 628) rotate(-90)" font-size="21" font-weight="bold" text-anchor="middle">SSS (PSU)</text>
<text transform="translate(1512.8 1309) rotate(-90)" font-size="21" font-weight="bold" text-anchor="middle">pH <tspan font-style="italic">in situ</tspan></text>
<text transform="translate(1528.3 1903.9) rotate(-90)" font-size="21" font-weight="bold" text-anchor="middle">TA (<tspan font-family='"Liberation Serif", "DejaVu Serif", serif' font-weight="normal" font-size="23.5">μ</tspan>mol Kg <tspan dy="-9.2" font-size="13.5">-1</tspan><tspan dy="9.2">)</tspan></text>
<path d="M694.9 281.4 L705.8 246.2 L715.5 223.5 L726.4 214.2 L736.3 215.7 L747.2 255.8 L757.9 134.7 L768.9 184.5M790.2 163.6 L800.6 411.9M822.0 349.4 L831.9 301.7 L843.1 245.4 L853.2 319.9 L864.9 280.6 L875.6 258.4 L885.3 216.2 L896.2 223.5M949.1 310.8 L959.5 323.3 L969.9 195.4 L980.8 325.2 L991.2 324.6 L1001.9 225.4 L1012.9 167.3 L1023.5 164.2M1150.2 118.5 L1161.1 108.9 L1171.5 235.7M1203.3 368.5 L1214.0 343.3 L1224.4 282.1 L1235.3 259.2 L1246.5 246.7 L1256.1 177.9 L1267.1 198.0 L1277.5 126.9 L1288.2 256.6 L1297.8 305.5 L1309.5 292.2 L1319.9 341.2 L1330.9 392.0 L1340.8 239.6 L1352.5 231.8 L1362.9 228.4 L1373.3 265.7 L1383.8 169.8 L1393.6 108.1 L1405.1 121.1" fill="none" stroke="#0000ff" stroke-width="2.7" stroke-linejoin="round" stroke-linecap="round"/>
<g fill="#0000ff"><polygon points="694.9,274.4 688.7,284.9 701.1,284.9"/><polygon points="705.8,239.2 699.6,249.7 712.0,249.7"/><polygon points="715.5,216.5 709.3,227.0 721.7,227.0"/><polygon points="726.4,207.2 720.2,217.7 732.6,217.7"/><polygon points="736.3,208.7 730.1,219.2 742.5,219.2"/><polygon points="747.2,248.8 741.0,259.3 753.4,259.3"/><polygon points="757.9,127.7 751.7,138.2 764.1,138.2"/><polygon points="768.9,177.5 762.7,188.0 775.1,188.0"/><polygon points="790.2,156.6 784.0,167.1 796.4,167.1"/><polygon points="800.6,404.9 794.4,415.4 806.8,415.4"/><polygon points="822.0,342.4 815.8,352.9 828.2,352.9"/><polygon points="831.9,294.7 825.7,305.2 838.1,305.2"/><polygon points="843.1,238.4 836.9,248.9 849.3,248.9"/><polygon points="853.2,312.9 847.0,323.4 859.4,323.4"/><polygon points="864.9,273.6 858.7,284.1 871.1,284.1"/><polygon points="875.6,251.4 869.4,261.9 881.8,261.9"/><polygon points="885.3,209.2 879.1,219.7 891.5,219.7"/><polygon points="896.2,216.5 890.0,227.0 902.4,227.0"/><polygon points="917.3,282.2 911.1,292.7 923.5,292.7"/><polygon points="949.1,303.8 942.9,314.3 955.3,314.3"/><polygon points="959.5,316.3 953.3,326.8 965.7,326.8"/><polygon points="969.9,188.4 963.7,198.9 976.1,198.9"/><polygon points="980.8,318.2 974.6,328.7 987.0,328.7"/><polygon points="991.2,317.6 985.0,328.1 997.4,328.1"/><polygon points="1001.9,218.4 995.7,228.9 1008.1,228.9"/><polygon points="1012.9,160.3 1006.7,170.8 1019.1,170.8"/><polygon points="1023.5,157.2 1017.3,167.7 1029.7,167.7"/><polygon points="1044.6,289.5 1038.4,300.0 1050.8,300.0"/><polygon points="1065.5,364.7 1059.3,375.2 1071.7,375.2"/><polygon points="1150.2,111.5 1144.0,122.0 1156.4,122.0"/><polygon points="1161.1,101.9 1154.9,112.4 1167.3,112.4"/><polygon points="1171.5,228.7 1165.3,239.2 1177.7,239.2"/><polygon points="1203.3,361.5 1197.1,372.0 1209.5,372.0"/><polygon points="1214.0,336.3 1207.8,346.8 1220.2,346.8"/><polygon points="1224.4,275.1 1218.2,285.6 1230.6,285.6"/><polygon points="1235.3,252.2 1229.1,262.7 1241.5,262.7"/><polygon points="1246.5,239.7 1240.3,250.2 1252.7,250.2"/><polygon points="1256.1,170.9 1249.9,181.4 1262.3,181.4"/><polygon points="1267.1,191.0 1260.9,201.5 1273.3,201.5"/><polygon points="1277.5,119.9 1271.3,130.4 1283.7,130.4"/><polygon points="1288.2,249.6 1282.0,260.1 1294.4,260.1"/><polygon points="1297.8,298.5 1291.6,309.0 1304.0,309.0"/><polygon points="1309.5,285.2 1303.3,295.7 1315.7,295.7"/><polygon points="1319.9,334.2 1313.7,344.7 1326.1,344.7"/><polygon points="1330.9,385.0 1324.7,395.5 1337.1,395.5"/><polygon points="1340.8,232.6 1334.6,243.1 1347.0,243.1"/><polygon points="1352.5,224.8 1346.3,235.3 1358.7,235.3"/><polygon points="1362.9,221.4 1356.7,231.9 1369.1,231.9"/><polygon points="1373.3,258.7 1367.1,269.2 1379.5,269.2"/><polygon points="1383.8,162.8 1377.6,173.3 1390.0,173.3"/><polygon points="1393.6,101.1 1387.4,111.6 1399.8,111.6"/><polygon points="1405.1,114.1 1398.9,124.6 1411.3,124.6"/></g>
<path d="M694.9 272.2 L705.1 231.4 L716.0 239.2 L726.4 215.5 L736.8 207.9 L747.8 255.3 L757.9 121.5 L768.9 186.0M790.2 162.3 L800.6 417.6M822.0 349.4 L832.4 317.3 L843.1 252.7 L853.2 319.9 L863.9 264.9 L874.8 257.1 L885.3 217.6 L896.2 218.9M949.1 311.4 L959.5 323.3 L969.9 198.0 L980.8 319.9 L991.2 285.3 L1002.4 233.2 L1012.3 151.1 L1023.5 169.9M1150.2 112.0 L1161.1 96.4 L1171.5 235.7M1203.3 392.0 L1214.5 355.0 L1224.4 296.1 L1235.3 261.8 L1245.7 233.1 L1256.1 166.7 L1267.1 185.7 L1277.5 125.6 L1288.2 257.1 L1298.6 313.3 L1309.5 290.4 L1319.9 340.4 L1330.4 389.9 L1341.3 243.5 L1351.7 228.4 L1362.9 228.4 L1373.3 267.0 L1383.8 169.8 L1394.2 102.9 L1405.1 114.6" fill="none" stroke="#000" stroke-width="2.7" stroke-linejoin="round" stroke-linecap="round"/>
<g fill="#000"><polygon points="694.9,266.4 696.4,270.1 700.4,270.4 697.4,273.0 698.3,276.9 694.9,274.8 691.5,276.9 692.4,273.0 689.4,270.4 693.4,270.1"/><polygon points="705.1,225.7 706.6,229.3 710.6,229.6 707.6,232.2 708.5,236.1 705.1,234.0 701.7,236.1 702.6,232.2 699.6,229.6 703.6,229.3"/><polygon points="716.0,233.4 717.5,237.1 721.5,237.4 718.5,240.0 719.4,243.9 716.0,241.8 712.6,243.9 713.5,240.0 710.5,237.4 714.5,237.1"/><polygon points="726.4,209.8 727.9,213.4 731.9,213.7 728.9,216.3 729.8,220.2 726.4,218.1 723.0,220.2 723.9,216.3 720.9,213.7 724.9,213.4"/><polygon points="736.8,202.2 738.3,205.8 742.3,206.1 739.3,208.7 740.2,212.6 736.8,210.5 733.4,212.6 734.3,208.7 731.3,206.1 735.3,205.8"/><polygon points="747.8,249.6 749.3,253.2 753.3,253.5 750.3,256.1 751.2,260.0 747.8,257.9 744.4,260.0 745.3,256.1 742.3,253.5 746.3,253.2"/><polygon points="757.9,115.8 759.4,119.4 763.4,119.7 760.4,122.3 761.3,126.2 757.9,124.1 754.5,126.2 755.4,122.3 752.4,119.7 756.4,119.4"/><polygon points="768.9,180.2 770.4,183.9 774.4,184.2 771.4,186.8 772.3,190.7 768.9,188.6 765.5,190.7 766.4,186.8 763.4,184.2 767.4,183.9"/><polygon points="790.2,156.6 791.7,160.2 795.7,160.5 792.7,163.1 793.6,167.0 790.2,164.9 786.8,167.0 787.7,163.1 784.7,160.5 788.7,160.2"/><polygon points="800.6,411.9 802.1,415.5 806.1,415.8 803.1,418.4 804.0,422.3 800.6,420.2 797.2,422.3 798.1,418.4 795.1,415.8 799.1,415.5"/><polygon points="822.0,343.6 823.5,347.3 827.5,347.6 824.5,350.2 825.4,354.1 822.0,352.0 818.6,354.1 819.5,350.2 816.5,347.6 820.5,347.3"/><polygon points="832.4,311.6 833.9,315.2 837.9,315.5 834.9,318.1 835.8,322.0 832.4,319.9 829.0,322.0 829.9,318.1 826.9,315.5 830.9,315.2"/><polygon points="843.1,246.9 844.6,250.6 848.6,250.9 845.6,253.5 846.5,257.4 843.1,255.3 839.7,257.4 840.6,253.5 837.6,250.9 841.6,250.6"/><polygon points="853.2,314.1 854.7,317.8 858.7,318.1 855.7,320.7 856.6,324.6 853.2,322.5 849.8,324.6 850.7,320.7 847.7,318.1 851.7,317.8"/><polygon points="863.9,259.1 865.4,262.8 869.4,263.1 866.4,265.7 867.3,269.6 863.9,267.5 860.5,269.6 861.4,265.7 858.4,263.1 862.4,262.8"/><polygon points="874.8,251.4 876.3,255.0 880.3,255.3 877.3,257.9 878.2,261.8 874.8,259.7 871.4,261.8 872.3,257.9 869.3,255.3 873.3,255.0"/><polygon points="885.3,211.8 886.8,215.5 890.8,215.8 887.8,218.4 888.7,222.3 885.3,220.2 881.9,222.3 882.8,218.4 879.8,215.8 883.8,215.5"/><polygon points="896.2,213.2 897.7,216.8 901.7,217.1 898.7,219.7 899.6,223.6 896.2,221.5 892.8,223.6 893.7,219.7 890.7,217.1 894.7,216.8"/><polygon points="917.3,280.1 918.8,283.7 922.8,284.0 919.8,286.6 920.7,290.5 917.3,288.4 913.9,290.5 914.8,286.6 911.8,284.0 915.8,283.7"/><polygon points="949.1,305.6 950.6,309.3 954.6,309.6 951.6,312.2 952.5,316.1 949.1,314.0 945.7,316.1 946.6,312.2 943.6,309.6 947.6,309.3"/><polygon points="959.5,317.6 961.0,321.2 965.0,321.5 962.0,324.1 962.9,328.0 959.5,325.9 956.1,328.0 957.0,324.1 954.0,321.5 958.0,321.2"/><polygon points="969.9,192.2 971.4,195.9 975.4,196.2 972.4,198.8 973.3,202.7 969.9,200.6 966.5,202.7 967.4,198.8 964.4,196.2 968.4,195.9"/><polygon points="980.8,314.1 982.3,317.8 986.3,318.1 983.3,320.7 984.2,324.6 980.8,322.5 977.4,324.6 978.3,320.7 975.3,318.1 979.3,317.8"/><polygon points="991.2,279.6 992.7,283.2 996.7,283.5 993.7,286.1 994.6,290.0 991.2,287.9 987.8,290.0 988.7,286.1 985.7,283.5 989.7,283.2"/><polygon points="1002.4,227.4 1003.9,231.1 1007.9,231.4 1004.9,234.0 1005.8,237.9 1002.4,235.8 999.0,237.9 999.9,234.0 996.9,231.4 1000.9,231.1"/><polygon points="1012.3,145.3 1013.8,149.0 1017.8,149.3 1014.8,151.9 1015.7,155.8 1012.3,153.7 1008.9,155.8 1009.8,151.9 1006.8,149.3 1010.8,149.0"/><polygon points="1023.5,164.2 1025.0,167.8 1029.0,168.1 1026.0,170.7 1026.9,174.6 1023.5,172.5 1020.1,174.6 1021.0,170.7 1018.0,168.1 1022.0,167.8"/><polygon points="1044.6,290.8 1046.1,294.4 1050.1,294.7 1047.1,297.3 1048.0,301.2 1044.6,299.1 1041.2,301.2 1042.1,297.3 1039.1,294.7 1043.1,294.4"/><polygon points="1065.5,362.2 1067.0,365.9 1071.0,366.2 1068.0,368.8 1068.9,372.7 1065.5,370.6 1062.1,372.7 1063.0,368.8 1060.0,366.2 1064.0,365.9"/><polygon points="1150.2,106.2 1151.7,109.9 1155.7,110.2 1152.7,112.8 1153.6,116.7 1150.2,114.6 1146.8,116.7 1147.7,112.8 1144.7,110.2 1148.7,109.9"/><polygon points="1161.1,90.7 1162.6,94.3 1166.6,94.6 1163.6,97.2 1164.5,101.1 1161.1,99.0 1157.7,101.1 1158.6,97.2 1155.6,94.6 1159.6,94.3"/><polygon points="1171.5,229.9 1173.0,233.6 1177.0,233.9 1174.0,236.5 1174.9,240.4 1171.5,238.3 1168.1,240.4 1169.0,236.5 1166.0,233.9 1170.0,233.6"/><polygon points="1203.3,386.2 1204.8,389.9 1208.8,390.2 1205.8,392.8 1206.7,396.7 1203.3,394.6 1199.9,396.7 1200.8,392.8 1197.8,390.2 1201.8,389.9"/><polygon points="1214.5,349.2 1216.0,352.9 1220.0,353.2 1217.0,355.8 1217.9,359.7 1214.5,357.6 1211.1,359.7 1212.0,355.8 1209.0,353.2 1213.0,352.9"/><polygon points="1224.4,290.4 1225.9,294.0 1229.9,294.3 1226.9,296.9 1227.8,300.8 1224.4,298.7 1221.0,300.8 1221.9,296.9 1218.9,294.3 1222.9,294.0"/><polygon points="1235.3,256.1 1236.8,259.7 1240.8,260.0 1237.8,262.6 1238.7,266.5 1235.3,264.4 1231.9,266.5 1232.8,262.6 1229.8,260.0 1233.8,259.7"/><polygon points="1245.7,227.3 1247.2,231.0 1251.2,231.3 1248.2,233.9 1249.1,237.8 1245.7,235.7 1242.3,237.8 1243.2,233.9 1240.2,231.3 1244.2,231.0"/><polygon points="1256.1,160.9 1257.6,164.6 1261.6,164.9 1258.6,167.5 1259.5,171.4 1256.1,169.3 1252.7,171.4 1253.6,167.5 1250.6,164.9 1254.6,164.6"/><polygon points="1267.1,179.9 1268.6,183.6 1272.6,183.9 1269.6,186.5 1270.5,190.4 1267.1,188.3 1263.7,190.4 1264.6,186.5 1261.6,183.9 1265.6,183.6"/><polygon points="1277.5,119.8 1279.0,123.5 1283.0,123.8 1280.0,126.4 1280.9,130.3 1277.5,128.2 1274.1,130.3 1275.0,126.4 1272.0,123.8 1276.0,123.5"/><polygon points="1288.2,251.4 1289.7,255.0 1293.7,255.3 1290.7,257.9 1291.6,261.8 1288.2,259.7 1284.8,261.8 1285.7,257.9 1282.7,255.3 1286.7,255.0"/><polygon points="1298.6,307.6 1300.1,311.2 1304.1,311.5 1301.1,314.1 1302.0,318.0 1298.6,315.9 1295.2,318.0 1296.1,314.1 1293.1,311.5 1297.1,311.2"/><polygon points="1309.5,284.6 1311.0,288.3 1315.0,288.6 1312.0,291.2 1312.9,295.1 1309.5,293.0 1306.1,295.1 1307.0,291.2 1304.0,288.6 1308.0,288.3"/><polygon points="1319.9,334.6 1321.4,338.3 1325.4,338.6 1322.4,341.2 1323.3,345.1 1319.9,343.0 1316.5,345.1 1317.4,341.2 1314.4,338.6 1318.4,338.3"/><polygon points="1330.4,384.1 1331.9,387.8 1335.9,388.1 1332.9,390.7 1333.8,394.6 1330.4,392.5 1327.0,394.6 1327.9,390.7 1324.9,388.1 1328.9,387.8"/><polygon points="1341.3,237.8 1342.8,241.4 1346.8,241.7 1343.8,244.3 1344.7,248.2 1341.3,246.1 1337.9,248.2 1338.8,244.3 1335.8,241.7 1339.8,241.4"/><polygon points="1351.7,222.7 1353.2,226.3 1357.2,226.6 1354.2,229.2 1355.1,233.1 1351.7,231.0 1348.3,233.1 1349.2,229.2 1346.2,226.6 1350.2,226.3"/><polygon points="1362.9,222.7 1364.4,226.3 1368.4,226.6 1365.4,229.2 1366.3,233.1 1362.9,231.0 1359.5,233.1 1360.4,229.2 1357.4,226.6 1361.4,226.3"/><polygon points="1373.3,261.2 1374.8,264.9 1378.8,265.2 1375.8,267.8 1376.7,271.7 1373.3,269.6 1369.9,271.7 1370.8,267.8 1367.8,265.2 1371.8,264.9"/><polygon points="1383.8,164.1 1385.3,167.7 1389.3,168.0 1386.3,170.6 1387.2,174.5 1383.8,172.4 1380.4,174.5 1381.3,170.6 1378.3,168.0 1382.3,167.7"/><polygon points="1394.2,97.2 1395.7,100.8 1399.7,101.1 1396.7,103.7 1397.6,107.6 1394.2,105.5 1390.8,107.6 1391.7,103.7 1388.7,101.1 1392.7,100.8"/><polygon points="1405.1,108.8 1406.6,112.5 1410.6,112.8 1407.6,115.4 1408.5,119.3 1405.1,117.2 1401.7,119.3 1402.6,115.4 1399.6,112.8 1403.6,112.5"/></g>
<path d="M694.9 453.5 L705.1 497.0 L715.5 465.0 L726.4 476.2 L736.8 477.0 L747.8 461.9 L757.9 593.8 L768.9 474.4M790.2 485.3 L800.6 455.4M822.0 459.3 L832.4 458.8 L843.1 476.2 L853.2 461.4 L863.9 469.7 L874.3 499.6 L885.3 477.5 L896.2 484.0M949.1 467.1 L959.5 459.8 L969.9 478.0 L981.6 464.0 L991.2 461.9 L1001.1 472.3 L1012.3 486.6 L1024.6 481.4M1150.2 695.9 L1161.1 552.9 L1171.5 471.9M1203.3 452.4 L1214.0 457.6 L1224.4 461.8 L1235.3 475.3 L1245.7 608.9 L1256.1 504.5 L1267.1 480.0 L1277.5 524.3 L1287.4 467.5 L1298.6 461.0 L1309.5 472.2 L1319.9 457.1 L1330.9 455.0 L1341.3 480.5 L1352.0 473.2 L1362.4 480.5 L1374.1 476.6 L1383.8 589.9 L1394.2 777.4 L1405.1 583.9" fill="none" stroke="#ff0000" stroke-width="2.7" stroke-linejoin="round" stroke-linecap="round"/>
<g fill="#ff0000"><polygon points="694.9,446.5 688.7,457.0 701.1,457.0"/><polygon points="705.1,490.0 698.9,500.5 711.3,500.5"/><polygon points="715.5,458.0 709.3,468.5 721.7,468.5"/><polygon points="726.4,469.2 720.2,479.7 732.6,479.7"/><polygon points="736.8,470.0 730.6,480.5 743.0,480.5"/><polygon points="747.8,454.9 741.6,465.4 754.0,465.4"/><polygon points="757.9,586.8 751.7,597.3 764.1,597.3"/><polygon points="768.9,467.4 762.7,477.9 775.1,477.9"/><polygon points="790.2,478.3 784.0,488.8 796.4,488.8"/><polygon points="800.6,448.4 794.4,458.9 806.8,458.9"/><polygon points="822.0,452.3 815.8,462.8 828.2,462.8"/><polygon points="832.4,451.8 826.2,462.3 838.6,462.3"/><polygon points="843.1,469.2 836.9,479.7 849.3,479.7"/><polygon points="853.2,454.4 847.0,464.9 859.4,464.9"/><polygon points="863.9,462.7 857.7,473.2 870.1,473.2"/><polygon points="874.3,492.6 868.1,503.1 880.5,503.1"/><polygon points="885.3,470.5 879.1,481.0 891.5,481.0"/><polygon points="896.2,477.0 890.0,487.5 902.4,487.5"/><polygon points="917.3,462.2 911.1,472.7 923.5,472.7"/><polygon points="949.1,460.1 942.9,470.6 955.3,470.6"/><polygon points="959.5,452.8 953.3,463.3 965.7,463.3"/><polygon points="969.9,471.0 963.7,481.5 976.1,481.5"/><polygon points="981.6,457.0 975.4,467.5 987.8,467.5"/><polygon points="991.2,454.9 985.0,465.4 997.4,465.4"/><polygon points="1001.1,465.3 994.9,475.8 1007.3,475.8"/><polygon points="1012.3,479.6 1006.1,490.1 1018.5,490.1"/><polygon points="1024.6,474.4 1018.4,484.9 1030.8,484.9"/><polygon points="1044.6,456.2 1038.4,466.7 1050.8,466.7"/><polygon points="1065.5,451.4 1059.3,461.9 1071.7,461.9"/><polygon points="1150.2,688.9 1144.0,699.4 1156.4,699.4"/><polygon points="1161.1,545.9 1154.9,556.4 1167.3,556.4"/><polygon points="1171.5,464.9 1165.3,475.4 1177.7,475.4"/><polygon points="1203.3,445.4 1197.1,455.9 1209.5,455.9"/><polygon points="1214.0,450.6 1207.8,461.1 1220.2,461.1"/><polygon points="1224.4,454.8 1218.2,465.3 1230.6,465.3"/><polygon points="1235.3,468.3 1229.1,478.8 1241.5,478.8"/><polygon points="1245.7,601.9 1239.5,612.4 1251.9,612.4"/><polygon points="1256.1,497.5 1249.9,508.0 1262.3,508.0"/><polygon points="1267.1,473.0 1260.9,483.5 1273.3,483.5"/><polygon points="1277.5,517.3 1271.3,527.8 1283.7,527.8"/><polygon points="1287.4,460.5 1281.2,471.0 1293.6,471.0"/><polygon points="1298.6,454.0 1292.4,464.5 1304.8,464.5"/><polygon points="1309.5,465.2 1303.3,475.7 1315.7,475.7"/><polygon points="1319.9,450.1 1313.7,460.6 1326.1,460.6"/><polygon points="1330.9,448.0 1324.7,458.5 1337.1,458.5"/><polygon points="1341.3,473.5 1335.1,484.0 1347.5,484.0"/><polygon points="1352.0,466.2 1345.8,476.7 1358.2,476.7"/><polygon points="1362.4,473.5 1356.2,484.0 1368.6,484.0"/><polygon points="1374.1,469.6 1367.9,480.1 1380.3,480.1"/><polygon points="1383.8,582.9 1377.6,593.4 1390.0,593.4"/><polygon points="1394.2,770.4 1388.0,780.9 1400.4,780.9"/><polygon points="1405.1,576.9 1398.9,587.4 1411.3,587.4"/></g>
<path d="M694.9 454.8 L705.1 533.5 L715.5 470.2 L726.4 476.2 L736.8 478.0 L747.8 462.4 L757.9 619.1 L768.9 475.4M790.2 485.3 L800.6 453.5M822.0 459.8 L832.4 458.8 L843.1 476.2 L853.2 461.9 L863.9 470.2 L874.3 499.6 L885.3 477.0 L896.2 519.7M949.1 467.1 L959.5 460.6 L969.9 477.0 L980.8 463.2 L991.2 464.5 L1001.9 471.8 L1012.3 496.2 L1024.1 480.6M1150.2 698.8 L1161.1 547.7 L1171.5 471.4M1203.3 454.0 L1214.0 457.6 L1224.4 461.8 L1235.3 474.8 L1245.7 608.1 L1256.1 504.5 L1267.1 480.0 L1277.5 524.3 L1287.4 467.5 L1298.6 462.3 L1309.5 472.2 L1319.9 457.1 L1330.9 455.0 L1341.3 480.5 L1352.0 473.2 L1362.4 480.5 L1373.3 475.3 L1383.8 589.9 L1394.2 790.4 L1405.1 583.9" fill="none" stroke="#000" stroke-width="2.7" stroke-linejoin="round" stroke-linecap="round"/>
<g fill="#000"><polygon points="694.9,449.1 696.4,452.7 700.4,453.0 697.4,455.6 698.3,459.5 694.9,457.4 691.5,459.5 692.4,455.6 689.4,453.0 693.4,452.7"/><polygon points="705.1,527.8 706.6,531.4 710.6,531.7 707.6,534.3 708.5,538.2 705.1,536.1 701.7,538.2 702.6,534.3 699.6,531.7 703.6,531.4"/><polygon points="715.5,464.4 717.0,468.1 721.0,468.4 718.0,471.0 718.9,474.9 715.5,472.8 712.1,474.9 713.0,471.0 710.0,468.4 714.0,468.1"/><polygon points="726.4,470.4 727.9,474.1 731.9,474.4 728.9,477.0 729.8,480.9 726.4,478.8 723.0,480.9 723.9,477.0 720.9,474.4 724.9,474.1"/><polygon points="736.8,472.2 738.3,475.9 742.3,476.2 739.3,478.8 740.2,482.7 736.8,480.6 733.4,482.7 734.3,478.8 731.3,476.2 735.3,475.9"/><polygon points="747.8,456.6 749.3,460.3 753.3,460.6 750.3,463.2 751.2,467.1 747.8,465.0 744.4,467.1 745.3,463.2 742.3,460.6 746.3,460.3"/><polygon points="757.9,613.4 759.4,617.0 763.4,617.3 760.4,619.9 761.3,623.8 757.9,621.7 754.5,623.8 755.4,619.9 752.4,617.3 756.4,617.0"/><polygon points="768.9,469.6 770.4,473.3 774.4,473.6 771.4,476.2 772.3,480.1 768.9,478.0 765.5,480.1 766.4,476.2 763.4,473.6 767.4,473.3"/><polygon points="790.2,479.6 791.7,483.2 795.7,483.5 792.7,486.1 793.6,490.0 790.2,487.9 786.8,490.0 787.7,486.1 784.7,483.5 788.7,483.2"/><polygon points="800.6,447.8 802.1,451.4 806.1,451.7 803.1,454.3 804.0,458.2 800.6,456.1 797.2,458.2 798.1,454.3 795.1,451.7 799.1,451.4"/><polygon points="822.0,454.1 823.5,457.7 827.5,458.0 824.5,460.6 825.4,464.5 822.0,462.4 818.6,464.5 819.5,460.6 816.5,458.0 820.5,457.7"/><polygon points="832.4,453.1 833.9,456.7 837.9,457.0 834.9,459.6 835.8,463.5 832.4,461.4 829.0,463.5 829.9,459.6 826.9,457.0 830.9,456.7"/><polygon points="843.1,470.4 844.6,474.1 848.6,474.4 845.6,477.0 846.5,480.9 843.1,478.8 839.7,480.9 840.6,477.0 837.6,474.4 841.6,474.1"/><polygon points="853.2,456.1 854.7,459.8 858.7,460.1 855.7,462.7 856.6,466.6 853.2,464.5 849.8,466.6 850.7,462.7 847.7,460.1 851.7,459.8"/><polygon points="863.9,464.4 865.4,468.1 869.4,468.4 866.4,471.0 867.3,474.9 863.9,472.8 860.5,474.9 861.4,471.0 858.4,468.4 862.4,468.1"/><polygon points="874.3,493.9 875.8,497.5 879.8,497.8 876.8,500.4 877.7,504.3 874.3,502.2 870.9,504.3 871.8,500.4 868.8,497.8 872.8,497.5"/><polygon points="885.3,471.2 886.8,474.9 890.8,475.2 887.8,477.8 888.7,481.7 885.3,479.6 881.9,481.7 882.8,477.8 879.8,475.2 883.8,474.9"/><polygon points="896.2,514.0 897.7,517.6 901.7,517.9 898.7,520.5 899.6,524.4 896.2,522.3 892.8,524.4 893.7,520.5 890.7,517.9 894.7,517.6"/><polygon points="917.3,463.9 918.8,467.6 922.8,467.9 919.8,470.5 920.7,474.4 917.3,472.3 913.9,474.4 914.8,470.5 911.8,467.9 915.8,467.6"/><polygon points="949.1,461.4 950.6,465.0 954.6,465.3 951.6,467.9 952.5,471.8 949.1,469.7 945.7,471.8 946.6,467.9 943.6,465.3 947.6,465.0"/><polygon points="959.5,454.9 961.0,458.5 965.0,458.8 962.0,461.4 962.9,465.3 959.5,463.2 956.1,465.3 957.0,461.4 954.0,458.8 958.0,458.5"/><polygon points="969.9,471.2 971.4,474.9 975.4,475.2 972.4,477.8 973.3,481.7 969.9,479.6 966.5,481.7 967.4,477.8 964.4,475.2 968.4,474.9"/><polygon points="980.8,457.4 982.3,461.1 986.3,461.4 983.3,464.0 984.2,467.9 980.8,465.8 977.4,467.9 978.3,464.0 975.3,461.4 979.3,461.1"/><polygon points="991.2,458.8 992.7,462.4 996.7,462.7 993.7,465.3 994.6,469.2 991.2,467.1 987.8,469.2 988.7,465.3 985.7,462.7 989.7,462.4"/><polygon points="1001.9,466.1 1003.4,469.7 1007.4,470.0 1004.4,472.6 1005.3,476.5 1001.9,474.4 998.5,476.5 999.4,472.6 996.4,470.0 1000.4,469.7"/><polygon points="1012.3,490.4 1013.8,494.1 1017.8,494.4 1014.8,497.0 1015.7,500.9 1012.3,498.8 1008.9,500.9 1009.8,497.0 1006.8,494.4 1010.8,494.1"/><polygon points="1024.1,474.9 1025.6,478.5 1029.6,478.8 1026.6,481.4 1027.5,485.3 1024.1,483.2 1020.7,485.3 1021.6,481.4 1018.6,478.8 1022.6,478.5"/><polygon points="1044.6,456.9 1046.1,460.6 1050.1,460.9 1047.1,463.5 1048.0,467.4 1044.6,465.3 1041.2,467.4 1042.1,463.5 1039.1,460.9 1043.1,460.6"/><polygon points="1065.5,452.1 1067.0,455.8 1071.0,456.1 1068.0,458.7 1068.9,462.6 1065.5,460.5 1062.1,462.6 1063.0,458.7 1060.0,456.1 1064.0,455.8"/><polygon points="1150.2,693.0 1151.7,696.7 1155.7,697.0 1152.7,699.6 1153.6,703.5 1150.2,701.4 1146.8,703.5 1147.7,699.6 1144.7,697.0 1148.7,696.7"/><polygon points="1161.1,542.0 1162.6,545.6 1166.6,545.9 1163.6,548.5 1164.5,552.4 1161.1,550.3 1157.7,552.4 1158.6,548.5 1155.6,545.9 1159.6,545.6"/><polygon points="1171.5,465.6 1173.0,469.3 1177.0,469.6 1174.0,472.2 1174.9,476.1 1171.5,474.0 1168.1,476.1 1169.0,472.2 1166.0,469.6 1170.0,469.3"/><polygon points="1203.3,448.2 1204.8,451.9 1208.8,452.2 1205.8,454.8 1206.7,458.7 1203.3,456.6 1199.9,458.7 1200.8,454.8 1197.8,452.2 1201.8,451.9"/><polygon points="1214.0,451.9 1215.5,455.5 1219.5,455.8 1216.5,458.4 1217.4,462.3 1214.0,460.2 1210.6,462.3 1211.5,458.4 1208.5,455.8 1212.5,455.5"/><polygon points="1224.4,456.1 1225.9,459.7 1229.9,460.0 1226.9,462.6 1227.8,466.5 1224.4,464.4 1221.0,466.5 1221.9,462.6 1218.9,460.0 1222.9,459.7"/><polygon points="1235.3,469.1 1236.8,472.7 1240.8,473.0 1237.8,475.6 1238.7,479.5 1235.3,477.4 1231.9,479.5 1232.8,475.6 1229.8,473.0 1233.8,472.7"/><polygon points="1245.7,602.4 1247.2,606.0 1251.2,606.3 1248.2,608.9 1249.1,612.8 1245.7,610.7 1242.3,612.8 1243.2,608.9 1240.2,606.3 1244.2,606.0"/><polygon points="1256.1,498.8 1257.6,502.4 1261.6,502.7 1258.6,505.3 1259.5,509.2 1256.1,507.1 1252.7,509.2 1253.6,505.3 1250.6,502.7 1254.6,502.4"/><polygon points="1267.1,474.2 1268.6,477.9 1272.6,478.2 1269.6,480.8 1270.5,484.7 1267.1,482.6 1263.7,484.7 1264.6,480.8 1261.6,478.2 1265.6,477.9"/><polygon points="1277.5,518.5 1279.0,522.2 1283.0,522.5 1280.0,525.1 1280.9,529.0 1277.5,526.9 1274.1,529.0 1275.0,525.1 1272.0,522.5 1276.0,522.2"/><polygon points="1287.4,461.8 1288.9,465.4 1292.9,465.7 1289.9,468.3 1290.8,472.2 1287.4,470.1 1284.0,472.2 1284.9,468.3 1281.9,465.7 1285.9,465.4"/><polygon points="1298.6,456.6 1300.1,460.2 1304.1,460.5 1301.1,463.1 1302.0,467.0 1298.6,464.9 1295.2,467.0 1296.1,463.1 1293.1,460.5 1297.1,460.2"/><polygon points="1309.5,466.4 1311.0,470.1 1315.0,470.4 1312.0,473.0 1312.9,476.9 1309.5,474.8 1306.1,476.9 1307.0,473.0 1304.0,470.4 1308.0,470.1"/><polygon points="1319.9,451.4 1321.4,455.0 1325.4,455.3 1322.4,457.9 1323.3,461.8 1319.9,459.7 1316.5,461.8 1317.4,457.9 1314.4,455.3 1318.4,455.0"/><polygon points="1330.9,449.2 1332.4,452.9 1336.4,453.2 1333.4,455.8 1334.3,459.7 1330.9,457.6 1327.5,459.7 1328.4,455.8 1325.4,453.2 1329.4,452.9"/><polygon points="1341.3,474.8 1342.8,478.4 1346.8,478.7 1343.8,481.3 1344.7,485.2 1341.3,483.1 1337.9,485.2 1338.8,481.3 1335.8,478.7 1339.8,478.4"/><polygon points="1352.0,467.4 1353.5,471.1 1357.5,471.4 1354.5,474.0 1355.4,477.9 1352.0,475.8 1348.6,477.9 1349.5,474.0 1346.5,471.4 1350.5,471.1"/><polygon points="1362.4,474.8 1363.9,478.4 1367.9,478.7 1364.9,481.3 1365.8,485.2 1362.4,483.1 1359.0,485.2 1359.9,481.3 1356.9,478.7 1360.9,478.4"/><polygon points="1373.3,469.6 1374.8,473.2 1378.8,473.5 1375.8,476.1 1376.7,480.0 1373.3,477.9 1369.9,480.0 1370.8,476.1 1367.8,473.5 1371.8,473.2"/><polygon points="1383.8,584.1 1385.3,587.8 1389.3,588.1 1386.3,590.7 1387.2,594.6 1383.8,592.5 1380.4,594.6 1381.3,590.7 1378.3,588.1 1382.3,587.8"/><polygon points="1394.2,784.6 1395.7,788.3 1399.7,788.6 1396.7,791.2 1397.6,795.1 1394.2,793.0 1390.8,795.1 1391.7,791.2 1388.7,788.6 1392.7,788.3"/><polygon points="1405.1,578.1 1406.6,581.8 1410.6,582.1 1407.6,584.7 1408.5,588.6 1405.1,586.5 1401.7,588.6 1402.6,584.7 1399.6,582.1 1403.6,581.8"/></g>
<path d="M822.0 921.9 L832.4 904.5 L842.3 955.8 L853.2 974.0 L864.4 944.1 L874.1 1035.2 L884.5 1075.2 L895.7 1061.7M948.5 948.8 L959.5 936.8 L969.9 927.1 L980.8 964.9M1001.9 914.9 L1012.3 1037.3 L1023.3 940.2M1150.2 770.9 L1160.6 985.7 L1171.5 985.2M1203.3 968.0 L1214.0 997.4 L1224.4 1141.1 L1235.3 1105.9 L1245.7 1138.5 L1256.1 977.9 L1266.0 1105.4 L1277.5 1124.7 L1288.2 1066.9 L1297.8 1102.0 L1309.5 1067.4 L1319.9 905.5 L1330.4 981.0 L1341.3 915.9 L1352.0 925.3M1372.8 940.9 L1383.8 1057.0 L1394.2 812.6 L1405.1 961.5" fill="none" stroke="#800080" stroke-width="2.7" stroke-linejoin="round" stroke-linecap="round"/>
<g fill="#800080"><polygon points="800.6,994.4 794.4,1004.9 806.8,1004.9"/><polygon points="822.0,914.9 815.8,925.4 828.2,925.4"/><polygon points="832.4,897.5 826.2,908.0 838.6,908.0"/><polygon points="842.3,948.8 836.1,959.3 848.5,959.3"/><polygon points="853.2,967.0 847.0,977.5 859.4,977.5"/><polygon points="864.4,937.1 858.2,947.6 870.6,947.6"/><polygon points="874.1,1028.2 867.9,1038.7 880.3,1038.7"/><polygon points="884.5,1068.2 878.3,1078.7 890.7,1078.7"/><polygon points="895.7,1054.7 889.5,1065.2 901.9,1065.2"/><polygon points="917.3,1057.8 911.1,1068.3 923.5,1068.3"/><polygon points="948.5,941.8 942.3,952.3 954.7,952.3"/><polygon points="959.5,929.8 953.3,940.3 965.7,940.3"/><polygon points="969.9,920.1 963.7,930.6 976.1,930.6"/><polygon points="980.8,957.9 974.6,968.4 987.0,968.4"/><polygon points="1001.9,907.9 995.7,918.4 1008.1,918.4"/><polygon points="1012.3,1030.3 1006.1,1040.8 1018.5,1040.8"/><polygon points="1023.3,933.2 1017.1,943.7 1029.5,943.7"/><polygon points="1044.6,958.4 1038.4,968.9 1050.8,968.9"/><polygon points="1065.5,913.6 1059.3,924.1 1071.7,924.1"/><polygon points="1150.2,763.9 1144.0,774.4 1156.4,774.4"/><polygon points="1160.6,978.7 1154.4,989.2 1166.8,989.2"/><polygon points="1171.5,978.2 1165.3,988.7 1177.7,988.7"/><polygon points="1203.3,961.0 1197.1,971.5 1209.5,971.5"/><polygon points="1214.0,990.4 1207.8,1000.9 1220.2,1000.9"/><polygon points="1224.4,1134.1 1218.2,1144.6 1230.6,1144.6"/><polygon points="1235.3,1098.9 1229.1,1109.4 1241.5,1109.4"/><polygon points="1245.7,1131.5 1239.5,1142.0 1251.9,1142.0"/><polygon points="1256.1,970.9 1249.9,981.4 1262.3,981.4"/><polygon points="1266.0,1098.4 1259.8,1108.9 1272.2,1108.9"/><polygon points="1277.5,1117.7 1271.3,1128.2 1283.7,1128.2"/><polygon points="1288.2,1059.9 1282.0,1070.4 1294.4,1070.4"/><polygon points="1297.8,1095.0 1291.6,1105.5 1304.0,1105.5"/><polygon points="1309.5,1060.4 1303.3,1070.9 1315.7,1070.9"/><polygon points="1319.9,898.5 1313.7,909.0 1326.1,909.0"/><polygon points="1330.4,974.0 1324.2,984.5 1336.6,984.5"/><polygon points="1341.3,908.9 1335.1,919.4 1347.5,919.4"/><polygon points="1352.0,918.3 1345.8,928.8 1358.2,928.8"/><polygon points="1372.8,933.9 1366.6,944.4 1379.0,944.4"/><polygon points="1383.8,1050.0 1377.6,1060.5 1390.0,1060.5"/><polygon points="1394.2,805.6 1388.0,816.1 1400.4,816.1"/><polygon points="1405.1,954.5 1398.9,965.0 1411.3,965.0"/></g>
<path d="M821.5 941.5 L831.9 936.2 L843.6 926.4 L853.2 990.2 L863.9 919.3 L874.8 1016.5 L885.3 1059.1 L896.2 1119.0M949.1 925.3 L959.5 966.5 L970.4 949.8 L980.8 853.7M1002.4 922.7 L1012.3 989.6 L1024.1 954.0M1150.2 806.8 L1160.6 989.1 L1171.5 987.8M1203.3 1096.3 L1214.0 1028.9 L1224.4 1119.7 L1235.3 1097.6 L1245.7 1097.6 L1256.1 975.8 L1267.1 1103.9 L1277.5 987.6 L1288.2 1014.4 L1298.6 1116.9 L1309.5 1092.9 L1319.9 1095.5 L1330.9 975.8 L1341.3 921.1 L1352.0 926.6M1372.8 939.6 L1383.8 1052.6 L1394.2 834.2 L1405.1 940.7" fill="none" stroke="#000" stroke-width="2.7" stroke-linejoin="round" stroke-linecap="round"/>
<g fill="#000"><polygon points="800.6,984.6 802.1,988.3 806.1,988.6 803.1,991.2 804.0,995.1 800.6,993.0 797.2,995.1 798.1,991.2 795.1,988.6 799.1,988.3"/><polygon points="821.5,935.8 823.0,939.4 827.0,939.7 824.0,942.3 824.9,946.2 821.5,944.1 818.1,946.2 819.0,942.3 816.0,939.7 820.0,939.4"/><polygon points="831.9,930.5 833.4,934.1 837.4,934.4 834.4,937.0 835.3,940.9 831.9,938.8 828.5,940.9 829.4,937.0 826.4,934.4 830.4,934.1"/><polygon points="843.6,920.6 845.1,924.3 849.1,924.6 846.1,927.2 847.0,931.1 843.6,929.0 840.2,931.1 841.1,927.2 838.1,924.6 842.1,924.3"/><polygon points="853.2,984.5 854.7,988.1 858.7,988.4 855.7,991.0 856.6,994.9 853.2,992.8 849.8,994.9 850.7,991.0 847.7,988.4 851.7,988.1"/><polygon points="863.9,913.5 865.4,917.2 869.4,917.5 866.4,920.1 867.3,924.0 863.9,921.9 860.5,924.0 861.4,920.1 858.4,917.5 862.4,917.2"/><polygon points="874.8,1010.8 876.3,1014.4 880.3,1014.7 877.3,1017.3 878.2,1021.2 874.8,1019.1 871.4,1021.2 872.3,1017.3 869.3,1014.7 873.3,1014.4"/><polygon points="885.3,1053.3 886.8,1057.0 890.8,1057.3 887.8,1059.9 888.7,1063.8 885.3,1061.7 881.9,1063.8 882.8,1059.9 879.8,1057.3 883.8,1057.0"/><polygon points="896.2,1113.2 897.7,1116.9 901.7,1117.2 898.7,1119.8 899.6,1123.7 896.2,1121.6 892.8,1123.7 893.7,1119.8 890.7,1117.2 894.7,1116.9"/><polygon points="917.3,1063.8 918.8,1067.4 922.8,1067.7 919.8,1070.3 920.7,1074.2 917.3,1072.1 913.9,1074.2 914.8,1070.3 911.8,1067.7 915.8,1067.4"/><polygon points="949.1,919.5 950.6,923.2 954.6,923.5 951.6,926.1 952.5,930.0 949.1,927.9 945.7,930.0 946.6,926.1 943.6,923.5 947.6,923.2"/><polygon points="959.5,960.8 961.0,964.4 965.0,964.7 962.0,967.3 962.9,971.2 959.5,969.1 956.1,971.2 957.0,967.3 954.0,964.7 958.0,964.4"/><polygon points="970.4,944.0 971.9,947.7 975.9,948.0 972.9,950.6 973.8,954.5 970.4,952.4 967.0,954.5 967.9,950.6 964.9,948.0 968.9,947.7"/><polygon points="980.8,848.0 982.3,851.6 986.3,851.9 983.3,854.5 984.2,858.4 980.8,856.3 977.4,858.4 978.3,854.5 975.3,851.9 979.3,851.6"/><polygon points="1002.4,917.0 1003.9,920.6 1007.9,920.9 1004.9,923.5 1005.8,927.4 1002.4,925.3 999.0,927.4 999.9,923.5 996.9,920.9 1000.9,920.6"/><polygon points="1012.3,983.9 1013.8,987.5 1017.8,987.8 1014.8,990.4 1015.7,994.3 1012.3,992.2 1008.9,994.3 1009.8,990.4 1006.8,987.8 1010.8,987.5"/><polygon points="1024.1,948.2 1025.6,951.9 1029.6,952.2 1026.6,954.8 1027.5,958.7 1024.1,956.6 1020.7,958.7 1021.6,954.8 1018.6,952.2 1022.6,951.9"/><polygon points="1044.6,965.6 1046.1,969.3 1050.1,969.6 1047.1,972.2 1048.0,976.1 1044.6,974.0 1041.2,976.1 1042.1,972.2 1039.1,969.6 1043.1,969.3"/><polygon points="1065.5,916.6 1067.0,920.3 1071.0,920.6 1068.0,923.2 1068.9,927.1 1065.5,925.0 1062.1,927.1 1063.0,923.2 1060.0,920.6 1064.0,920.3"/><polygon points="1150.2,801.0 1151.7,804.7 1155.7,805.0 1152.7,807.6 1153.6,811.5 1150.2,809.4 1146.8,811.5 1147.7,807.6 1144.7,805.0 1148.7,804.7"/><polygon points="1160.6,983.4 1162.1,987.0 1166.1,987.3 1163.1,989.9 1164.0,993.8 1160.6,991.7 1157.2,993.8 1158.1,989.9 1155.1,987.3 1159.1,987.0"/><polygon points="1171.5,982.0 1173.0,985.7 1177.0,986.0 1174.0,988.6 1174.9,992.5 1171.5,990.4 1168.1,992.5 1169.0,988.6 1166.0,986.0 1170.0,985.7"/><polygon points="1203.3,1090.5 1204.8,1094.2 1208.8,1094.5 1205.8,1097.1 1206.7,1101.0 1203.3,1098.9 1199.9,1101.0 1200.8,1097.1 1197.8,1094.5 1201.8,1094.2"/><polygon points="1214.0,1023.2 1215.5,1026.8 1219.5,1027.1 1216.5,1029.7 1217.4,1033.6 1214.0,1031.5 1210.6,1033.6 1211.5,1029.7 1208.5,1027.1 1212.5,1026.8"/><polygon points="1224.4,1114.0 1225.9,1117.6 1229.9,1117.9 1226.9,1120.5 1227.8,1124.4 1224.4,1122.3 1221.0,1124.4 1221.9,1120.5 1218.9,1117.9 1222.9,1117.6"/><polygon points="1235.3,1091.8 1236.8,1095.5 1240.8,1095.8 1237.8,1098.4 1238.7,1102.3 1235.3,1100.2 1231.9,1102.3 1232.8,1098.4 1229.8,1095.8 1233.8,1095.5"/><polygon points="1245.7,1091.8 1247.2,1095.5 1251.2,1095.8 1248.2,1098.4 1249.1,1102.3 1245.7,1100.2 1242.3,1102.3 1243.2,1098.4 1240.2,1095.8 1244.2,1095.5"/><polygon points="1256.1,970.0 1257.6,973.7 1261.6,974.0 1258.6,976.6 1259.5,980.5 1256.1,978.4 1252.7,980.5 1253.6,976.6 1250.6,974.0 1254.6,973.7"/><polygon points="1267.1,1098.2 1268.6,1101.8 1272.6,1102.1 1269.6,1104.7 1270.5,1108.6 1267.1,1106.5 1263.7,1108.6 1264.6,1104.7 1261.6,1102.1 1265.6,1101.8"/><polygon points="1277.5,981.9 1279.0,985.5 1283.0,985.8 1280.0,988.4 1280.9,992.3 1277.5,990.2 1274.1,992.3 1275.0,988.4 1272.0,985.8 1276.0,985.5"/><polygon points="1288.2,1008.6 1289.7,1012.3 1293.7,1012.6 1290.7,1015.2 1291.6,1019.1 1288.2,1017.0 1284.8,1019.1 1285.7,1015.2 1282.7,1012.6 1286.7,1012.3"/><polygon points="1298.6,1111.2 1300.1,1114.8 1304.1,1115.1 1301.1,1117.7 1302.0,1121.6 1298.6,1119.5 1295.2,1121.6 1296.1,1117.7 1293.1,1115.1 1297.1,1114.8"/><polygon points="1309.5,1087.2 1311.0,1090.8 1315.0,1091.1 1312.0,1093.7 1312.9,1097.6 1309.5,1095.5 1306.1,1097.6 1307.0,1093.7 1304.0,1091.1 1308.0,1090.8"/><polygon points="1319.9,1089.8 1321.4,1093.4 1325.4,1093.7 1322.4,1096.3 1323.3,1100.2 1319.9,1098.1 1316.5,1100.2 1317.4,1096.3 1314.4,1093.7 1318.4,1093.4"/><polygon points="1330.9,970.0 1332.4,973.7 1336.4,974.0 1333.4,976.6 1334.3,980.5 1330.9,978.4 1327.5,980.5 1328.4,976.6 1325.4,974.0 1329.4,973.7"/><polygon points="1341.3,915.4 1342.8,919.0 1346.8,919.3 1343.8,921.9 1344.7,925.8 1341.3,923.7 1337.9,925.8 1338.8,921.9 1335.8,919.3 1339.8,919.0"/><polygon points="1352.0,920.9 1353.5,924.5 1357.5,924.8 1354.5,927.4 1355.4,931.3 1352.0,929.2 1348.6,931.3 1349.5,927.4 1346.5,924.8 1350.5,924.5"/><polygon points="1372.8,933.9 1374.3,937.5 1378.3,937.8 1375.3,940.4 1376.2,944.3 1372.8,942.2 1369.4,944.3 1370.3,940.4 1367.3,937.8 1371.3,937.5"/><polygon points="1383.8,1046.8 1385.3,1050.5 1389.3,1050.8 1386.3,1053.4 1387.2,1057.3 1383.8,1055.2 1380.4,1057.3 1381.3,1053.4 1378.3,1050.8 1382.3,1050.5"/><polygon points="1394.2,828.5 1395.7,832.1 1399.7,832.4 1396.7,835.0 1397.6,838.9 1394.2,836.8 1390.8,838.9 1391.7,835.0 1388.7,832.4 1392.7,832.1"/><polygon points="1405.1,935.0 1406.6,938.6 1410.6,938.9 1407.6,941.5 1408.5,945.4 1405.1,943.3 1401.7,945.4 1402.6,941.5 1399.6,938.9 1403.6,938.6"/></g>
<path d="M694.9 1264.8 L705.6 1236.7 L716.8 1199.7 L726.4 1169.7 L736.8 1128.9 L747.8 1239.5 L757.9 1163.2 L768.9 1202.8M790.2 1138.5 L800.6 1435.4M822.0 1348.6 L832.4 1207.5 L843.1 1287.2 L853.2 1434.1 L864.4 1299.9 L874.3 1206.2 L885.3 1258.3 L896.2 1335.1M948.8 1281.5 L959.5 1134.1 L969.9 1324.2 L980.8 1131.5 L991.2 1286.2 L1001.9 1147.6 L1012.3 1229.6M1150.2 1129.4 L1161.1 1119.0 L1171.5 1145.0M1202.8 1281.7 L1214.0 1267.4 L1224.9 1289.5 L1234.8 1233.0 L1245.7 1217.9 L1256.1 1245.3 L1267.1 1185.4 L1277.0 1207.5 L1288.2 1217.9 L1298.6 1217.4 L1309.5 1225.7 L1319.9 1233.5 L1330.4 1260.1 L1341.3 1255.2 L1352.0 1234.1M1372.8 1268.7 L1383.2 1186.7 L1394.2 1197.1 L1404.6 1150.2" fill="none" stroke="#008000" stroke-width="2.7" stroke-linejoin="round" stroke-linecap="round"/>
<g fill="#008000"><polygon points="694.9,1257.8 688.7,1268.3 701.1,1268.3"/><polygon points="705.6,1229.7 699.4,1240.2 711.8,1240.2"/><polygon points="716.8,1192.7 710.6,1203.2 723.0,1203.2"/><polygon points="726.4,1162.7 720.2,1173.2 732.6,1173.2"/><polygon points="736.8,1121.9 730.6,1132.4 743.0,1132.4"/><polygon points="747.8,1232.5 741.6,1243.0 754.0,1243.0"/><polygon points="757.9,1156.2 751.7,1166.7 764.1,1166.7"/><polygon points="768.9,1195.8 762.7,1206.3 775.1,1206.3"/><polygon points="790.2,1131.5 784.0,1142.0 796.4,1142.0"/><polygon points="800.6,1428.4 794.4,1438.9 806.8,1438.9"/><polygon points="822.0,1341.6 815.8,1352.1 828.2,1352.1"/><polygon points="832.4,1200.5 826.2,1211.0 838.6,1211.0"/><polygon points="843.1,1280.2 836.9,1290.7 849.3,1290.7"/><polygon points="853.2,1427.1 847.0,1437.6 859.4,1437.6"/><polygon points="864.4,1292.9 858.2,1303.4 870.6,1303.4"/><polygon points="874.3,1199.2 868.1,1209.7 880.5,1209.7"/><polygon points="885.3,1251.3 879.1,1261.8 891.5,1261.8"/><polygon points="896.2,1328.1 890.0,1338.6 902.4,1338.6"/><polygon points="917.3,1421.3 911.1,1431.8 923.5,1431.8"/><polygon points="948.8,1274.5 942.6,1285.0 955.0,1285.0"/><polygon points="959.5,1127.1 953.3,1137.6 965.7,1137.6"/><polygon points="969.9,1317.2 963.7,1327.7 976.1,1327.7"/><polygon points="980.8,1124.5 974.6,1135.0 987.0,1135.0"/><polygon points="991.2,1279.2 985.0,1289.8 997.4,1289.8"/><polygon points="1001.9,1140.6 995.7,1151.1 1008.1,1151.1"/><polygon points="1012.3,1222.6 1006.1,1233.1 1018.5,1233.1"/><polygon points="1044.6,1147.9 1038.4,1158.4 1050.8,1158.4"/><polygon points="1150.2,1122.4 1144.0,1132.9 1156.4,1132.9"/><polygon points="1161.1,1112.0 1154.9,1122.5 1167.3,1122.5"/><polygon points="1171.5,1138.0 1165.3,1148.5 1177.7,1148.5"/><polygon points="1202.8,1274.7 1196.6,1285.2 1209.0,1285.2"/><polygon points="1214.0,1260.4 1207.8,1270.9 1220.2,1270.9"/><polygon points="1224.9,1282.5 1218.7,1293.0 1231.1,1293.0"/><polygon points="1234.8,1226.0 1228.6,1236.5 1241.0,1236.5"/><polygon points="1245.7,1210.9 1239.5,1221.4 1251.9,1221.4"/><polygon points="1256.1,1238.3 1249.9,1248.8 1262.3,1248.8"/><polygon points="1267.1,1178.4 1260.9,1188.9 1273.3,1188.9"/><polygon points="1277.0,1200.5 1270.8,1211.0 1283.2,1211.0"/><polygon points="1288.2,1210.9 1282.0,1221.4 1294.4,1221.4"/><polygon points="1298.6,1210.4 1292.4,1220.9 1304.8,1220.9"/><polygon points="1309.5,1218.7 1303.3,1229.2 1315.7,1229.2"/><polygon points="1319.9,1226.5 1313.7,1237.0 1326.1,1237.0"/><polygon points="1330.4,1253.1 1324.2,1263.6 1336.6,1263.6"/><polygon points="1341.3,1248.2 1335.1,1258.7 1347.5,1258.7"/><polygon points="1352.0,1227.1 1345.8,1237.6 1358.2,1237.6"/><polygon points="1372.8,1261.7 1366.6,1272.2 1379.0,1272.2"/><polygon points="1383.2,1179.7 1377.0,1190.2 1389.4,1190.2"/><polygon points="1394.2,1190.1 1388.0,1200.6 1400.4,1200.6"/><polygon points="1404.6,1143.2 1398.4,1153.7 1410.8,1153.7"/></g>
<path d="M694.9 1257.5 L705.1 1231.5 L716.0 1191.4 L726.4 1169.2 L736.8 1127.6M757.9 1160.6 L768.9 1202.8M790.2 1173.6 L800.6 1323.4M821.5 1304.6 L832.4 1145.0 L843.6 1169.2 L853.2 1313.8 L864.4 1284.3 L874.8 1214.0 L885.8 1253.1 L896.2 1412.4M969.9 1338.5 L980.8 1104.6 L991.2 1280.4 L1001.9 1148.9 L1012.3 1222.6M1150.2 1130.7 L1161.1 1119.0 L1171.5 1153.3M1203.3 1291.4 L1214.0 1272.6 L1224.4 1289.5 L1235.3 1238.2 L1245.7 1216.6 L1256.1 1245.3 L1267.1 1195.8 L1277.5 1210.9 L1288.2 1214.0 L1298.6 1221.0 L1309.5 1230.9 L1319.9 1315.1 L1330.9 1260.1 L1341.3 1248.4 L1352.0 1378.9M1373.3 1272.6 L1383.8 1187.4 L1394.2 1186.7 L1405.1 1151.0" fill="none" stroke="#000" stroke-width="2.7" stroke-linejoin="round" stroke-linecap="round"/>
<g fill="#000"><polygon points="694.9,1251.8 696.4,1255.4 700.4,1255.7 697.4,1258.3 698.3,1262.2 694.9,1260.1 691.5,1262.2 692.4,1258.3 689.4,1255.7 693.4,1255.4"/><polygon points="705.1,1225.8 706.6,1229.4 710.6,1229.7 707.6,1232.3 708.5,1236.2 705.1,1234.1 701.7,1236.2 702.6,1232.3 699.6,1229.7 703.6,1229.4"/><polygon points="716.0,1185.7 717.5,1189.3 721.5,1189.6 718.5,1192.2 719.4,1196.1 716.0,1194.0 712.6,1196.1 713.5,1192.2 710.5,1189.6 714.5,1189.3"/><polygon points="726.4,1163.5 727.9,1167.1 731.9,1167.4 728.9,1170.0 729.8,1173.9 726.4,1171.8 723.0,1173.9 723.9,1170.0 720.9,1167.4 724.9,1167.1"/><polygon points="736.8,1121.8 738.3,1125.5 742.3,1125.8 739.3,1128.4 740.2,1132.3 736.8,1130.2 733.4,1132.3 734.3,1128.4 731.3,1125.8 735.3,1125.5"/><polygon points="757.9,1154.8 759.4,1158.5 763.4,1158.8 760.4,1161.4 761.3,1165.3 757.9,1163.2 754.5,1165.3 755.4,1161.4 752.4,1158.8 756.4,1158.5"/><polygon points="768.9,1197.0 770.4,1200.7 774.4,1201.0 771.4,1203.6 772.3,1207.5 768.9,1205.4 765.5,1207.5 766.4,1203.6 763.4,1201.0 767.4,1200.7"/><polygon points="790.2,1167.8 791.7,1171.5 795.7,1171.8 792.7,1174.4 793.6,1178.3 790.2,1176.2 786.8,1178.3 787.7,1174.4 784.7,1171.8 788.7,1171.5"/><polygon points="800.6,1317.7 802.1,1321.3 806.1,1321.6 803.1,1324.2 804.0,1328.1 800.6,1326.0 797.2,1328.1 798.1,1324.2 795.1,1321.6 799.1,1321.3"/><polygon points="821.5,1298.8 823.0,1302.5 827.0,1302.8 824.0,1305.4 824.9,1309.3 821.5,1307.2 818.1,1309.3 819.0,1305.4 816.0,1302.8 820.0,1302.5"/><polygon points="832.4,1139.2 833.9,1142.9 837.9,1143.2 834.9,1145.8 835.8,1149.7 832.4,1147.6 829.0,1149.7 829.9,1145.8 826.9,1143.2 830.9,1142.9"/><polygon points="843.6,1163.5 845.1,1167.1 849.1,1167.4 846.1,1170.0 847.0,1173.9 843.6,1171.8 840.2,1173.9 841.1,1170.0 838.1,1167.4 842.1,1167.1"/><polygon points="853.2,1308.0 854.7,1311.7 858.7,1312.0 855.7,1314.6 856.6,1318.5 853.2,1316.4 849.8,1318.5 850.7,1314.6 847.7,1312.0 851.7,1311.7"/><polygon points="864.4,1278.5 865.9,1282.2 869.9,1282.5 866.9,1285.1 867.8,1289.0 864.4,1286.9 861.0,1289.0 861.9,1285.1 858.9,1282.5 862.9,1282.2"/><polygon points="874.8,1208.2 876.3,1211.9 880.3,1212.2 877.3,1214.8 878.2,1218.7 874.8,1216.6 871.4,1218.7 872.3,1214.8 869.3,1212.2 873.3,1211.9"/><polygon points="885.8,1247.3 887.3,1251.0 891.3,1251.3 888.3,1253.9 889.2,1257.8 885.8,1255.7 882.4,1257.8 883.3,1253.9 880.3,1251.3 884.3,1251.0"/><polygon points="896.2,1406.7 897.7,1410.3 901.7,1410.6 898.7,1413.2 899.6,1417.1 896.2,1415.0 892.8,1417.1 893.7,1413.2 890.7,1410.6 894.7,1410.3"/><polygon points="917.3,1409.3 918.8,1413.0 922.8,1413.3 919.8,1415.9 920.7,1419.8 917.3,1417.7 913.9,1419.8 914.8,1415.9 911.8,1413.3 915.8,1413.0"/><polygon points="949.1,1255.2 950.6,1258.8 954.6,1259.1 951.6,1261.7 952.5,1265.6 949.1,1263.5 945.7,1265.6 946.6,1261.7 943.6,1259.1 947.6,1258.8"/><polygon points="969.9,1332.8 971.4,1336.4 975.4,1336.7 972.4,1339.3 973.3,1343.2 969.9,1341.1 966.5,1343.2 967.4,1339.3 964.4,1336.7 968.4,1336.4"/><polygon points="980.8,1098.8 982.3,1102.5 986.3,1102.8 983.3,1105.4 984.2,1109.3 980.8,1107.2 977.4,1109.3 978.3,1105.4 975.3,1102.8 979.3,1102.5"/><polygon points="991.2,1274.7 992.7,1278.3 996.7,1278.6 993.7,1281.2 994.6,1285.1 991.2,1283.0 987.8,1285.1 988.7,1281.2 985.7,1278.6 989.7,1278.3"/><polygon points="1001.9,1143.2 1003.4,1146.8 1007.4,1147.1 1004.4,1149.7 1005.3,1153.6 1001.9,1151.5 998.5,1153.6 999.4,1149.7 996.4,1147.1 1000.4,1146.8"/><polygon points="1012.3,1216.8 1013.8,1220.5 1017.8,1220.8 1014.8,1223.4 1015.7,1227.3 1012.3,1225.2 1008.9,1227.3 1009.8,1223.4 1006.8,1220.8 1010.8,1220.5"/><polygon points="1044.6,1181.7 1046.1,1185.3 1050.1,1185.6 1047.1,1188.2 1048.0,1192.1 1044.6,1190.0 1041.2,1192.1 1042.1,1188.2 1039.1,1185.6 1043.1,1185.3"/><polygon points="1150.2,1125.0 1151.7,1128.6 1155.7,1128.9 1152.7,1131.5 1153.6,1135.4 1150.2,1133.3 1146.8,1135.4 1147.7,1131.5 1144.7,1128.9 1148.7,1128.6"/><polygon points="1161.1,1113.2 1162.6,1116.9 1166.6,1117.2 1163.6,1119.8 1164.5,1123.7 1161.1,1121.6 1157.7,1123.7 1158.6,1119.8 1155.6,1117.2 1159.6,1116.9"/><polygon points="1171.5,1147.5 1173.0,1151.2 1177.0,1151.5 1174.0,1154.1 1174.9,1158.0 1171.5,1155.9 1168.1,1158.0 1169.0,1154.1 1166.0,1151.5 1170.0,1151.2"/><polygon points="1203.3,1285.7 1204.8,1289.3 1208.8,1289.6 1205.8,1292.2 1206.7,1296.1 1203.3,1294.0 1199.9,1296.1 1200.8,1292.2 1197.8,1289.6 1201.8,1289.3"/><polygon points="1214.0,1266.8 1215.5,1270.5 1219.5,1270.8 1216.5,1273.4 1217.4,1277.3 1214.0,1275.2 1210.6,1277.3 1211.5,1273.4 1208.5,1270.8 1212.5,1270.5"/><polygon points="1224.4,1283.8 1225.9,1287.4 1229.9,1287.7 1226.9,1290.3 1227.8,1294.2 1224.4,1292.1 1221.0,1294.2 1221.9,1290.3 1218.9,1287.7 1222.9,1287.4"/><polygon points="1235.3,1232.5 1236.8,1236.1 1240.8,1236.4 1237.8,1239.0 1238.7,1242.9 1235.3,1240.8 1231.9,1242.9 1232.8,1239.0 1229.8,1236.4 1233.8,1236.1"/><polygon points="1245.7,1210.8 1247.2,1214.5 1251.2,1214.8 1248.2,1217.4 1249.1,1221.3 1245.7,1219.2 1242.3,1221.3 1243.2,1217.4 1240.2,1214.8 1244.2,1214.5"/><polygon points="1256.1,1239.5 1257.6,1243.2 1261.6,1243.5 1258.6,1246.1 1259.5,1250.0 1256.1,1247.9 1252.7,1250.0 1253.6,1246.1 1250.6,1243.5 1254.6,1243.2"/><polygon points="1267.1,1190.0 1268.6,1193.7 1272.6,1194.0 1269.6,1196.6 1270.5,1200.5 1267.1,1198.4 1263.7,1200.5 1264.6,1196.6 1261.6,1194.0 1265.6,1193.7"/><polygon points="1277.5,1205.2 1279.0,1208.8 1283.0,1209.1 1280.0,1211.7 1280.9,1215.6 1277.5,1213.5 1274.1,1215.6 1275.0,1211.7 1272.0,1209.1 1276.0,1208.8"/><polygon points="1288.2,1208.2 1289.7,1211.9 1293.7,1212.2 1290.7,1214.8 1291.6,1218.7 1288.2,1216.6 1284.8,1218.7 1285.7,1214.8 1282.7,1212.2 1286.7,1211.9"/><polygon points="1298.6,1215.2 1300.1,1218.9 1304.1,1219.2 1301.1,1221.8 1302.0,1225.7 1298.6,1223.6 1295.2,1225.7 1296.1,1221.8 1293.1,1219.2 1297.1,1218.9"/><polygon points="1309.5,1225.2 1311.0,1228.8 1315.0,1229.1 1312.0,1231.7 1312.9,1235.6 1309.5,1233.5 1306.1,1235.6 1307.0,1231.7 1304.0,1229.1 1308.0,1228.8"/><polygon points="1319.9,1309.3 1321.4,1313.0 1325.4,1313.3 1322.4,1315.9 1323.3,1319.8 1319.9,1317.7 1316.5,1319.8 1317.4,1315.9 1314.4,1313.3 1318.4,1313.0"/><polygon points="1330.9,1254.3 1332.4,1258.0 1336.4,1258.3 1333.4,1260.9 1334.3,1264.8 1330.9,1262.7 1327.5,1264.8 1328.4,1260.9 1325.4,1258.3 1329.4,1258.0"/><polygon points="1341.3,1242.7 1342.8,1246.3 1346.8,1246.6 1343.8,1249.2 1344.7,1253.1 1341.3,1251.0 1337.9,1253.1 1338.8,1249.2 1335.8,1246.6 1339.8,1246.3"/><polygon points="1352.0,1373.2 1353.5,1376.8 1357.5,1377.1 1354.5,1379.7 1355.4,1383.6 1352.0,1381.5 1348.6,1383.6 1349.5,1379.7 1346.5,1377.1 1350.5,1376.8"/><polygon points="1373.3,1266.8 1374.8,1270.5 1378.8,1270.8 1375.8,1273.4 1376.7,1277.3 1373.3,1275.2 1369.9,1277.3 1370.8,1273.4 1367.8,1270.8 1371.8,1270.5"/><polygon points="1383.8,1181.7 1385.3,1185.3 1389.3,1185.6 1386.3,1188.2 1387.2,1192.1 1383.8,1190.0 1380.4,1192.1 1381.3,1188.2 1378.3,1185.6 1382.3,1185.3"/><polygon points="1394.2,1181.0 1395.7,1184.6 1399.7,1184.9 1396.7,1187.5 1397.6,1191.4 1394.2,1189.3 1390.8,1191.4 1391.7,1187.5 1388.7,1184.9 1392.7,1184.6"/><polygon points="1405.1,1145.2 1406.6,1148.9 1410.6,1149.2 1407.6,1151.8 1408.5,1155.7 1405.1,1153.6 1401.7,1155.7 1402.6,1151.8 1399.6,1149.2 1403.6,1148.9"/></g>
<path d="M843.1 1500.5 L853.2 1475.2 L863.9 1494.0 L874.3 1490.1 L885.3 1509.6 L897.0 1515.3M948.5 1497.9 L959.5 1477.6 L969.9 1517.4 L980.3 1482.2 L991.2 1486.7 L1001.1 1510.1 L1012.3 1512.2 L1024.1 1525.2M1150.2 1685.4 L1161.1 1588.2 L1171.5 1499.2M1202.8 1467.9 L1212.4 1478.3 L1223.6 1492.7 L1234.8 1506.5 L1245.7 1569.5 L1256.1 1535.6 L1266.0 1520.5 L1277.5 1510.9 L1288.7 1497.9 L1298.6 1479.1 L1309.5 1511.7 L1319.9 1477.0 L1330.9 1604.6 L1341.3 1525.2 L1352.0 1513.5 L1362.9 1528.3 L1373.3 1573.4 L1383.8 1619.0 L1394.2 1780.4 L1405.1 1718.4" fill="none" stroke="#800000" stroke-width="2.7" stroke-linejoin="round" stroke-linecap="round"/>
<g fill="#800000"><polygon points="800.6,1477.8 794.4,1488.3 806.8,1488.3"/><polygon points="822.0,1490.1 815.8,1500.6 828.2,1500.6"/><polygon points="843.1,1493.5 836.9,1504.0 849.3,1504.0"/><polygon points="853.2,1468.2 847.0,1478.7 859.4,1478.7"/><polygon points="863.9,1487.0 857.7,1497.5 870.1,1497.5"/><polygon points="874.3,1483.1 868.1,1493.6 880.5,1493.6"/><polygon points="885.3,1502.6 879.1,1513.1 891.5,1513.1"/><polygon points="897.0,1508.3 890.8,1518.8 903.2,1518.8"/><polygon points="917.3,1485.1 911.1,1495.6 923.5,1495.6"/><polygon points="948.5,1490.9 942.3,1501.4 954.7,1501.4"/><polygon points="959.5,1470.6 953.3,1481.1 965.7,1481.1"/><polygon points="969.9,1510.4 963.7,1520.9 976.1,1520.9"/><polygon points="980.3,1475.2 974.1,1485.7 986.5,1485.7"/><polygon points="991.2,1479.7 985.0,1490.2 997.4,1490.2"/><polygon points="1001.1,1503.1 994.9,1513.6 1007.3,1513.6"/><polygon points="1012.3,1505.2 1006.1,1515.7 1018.5,1515.7"/><polygon points="1024.1,1518.2 1017.9,1528.7 1030.3,1528.7"/><polygon points="1044.6,1483.1 1038.4,1493.6 1050.8,1493.6"/><polygon points="1065.5,1472.1 1059.3,1482.6 1071.7,1482.6"/><polygon points="1150.2,1678.4 1144.0,1688.9 1156.4,1688.9"/><polygon points="1161.1,1581.2 1154.9,1591.7 1167.3,1591.7"/><polygon points="1171.5,1492.2 1165.3,1502.7 1177.7,1502.7"/><polygon points="1202.8,1460.9 1196.6,1471.4 1209.0,1471.4"/><polygon points="1212.4,1471.3 1206.2,1481.8 1218.6,1481.8"/><polygon points="1223.6,1485.7 1217.4,1496.2 1229.8,1496.2"/><polygon points="1234.8,1499.5 1228.6,1510.0 1241.0,1510.0"/><polygon points="1245.7,1562.5 1239.5,1573.0 1251.9,1573.0"/><polygon points="1256.1,1528.6 1249.9,1539.1 1262.3,1539.1"/><polygon points="1266.0,1513.5 1259.8,1524.0 1272.2,1524.0"/><polygon points="1277.5,1503.9 1271.3,1514.4 1283.7,1514.4"/><polygon points="1288.7,1490.9 1282.5,1501.4 1294.9,1501.4"/><polygon points="1298.6,1472.1 1292.4,1482.6 1304.8,1482.6"/><polygon points="1309.5,1504.7 1303.3,1515.2 1315.7,1515.2"/><polygon points="1319.9,1470.0 1313.7,1480.5 1326.1,1480.5"/><polygon points="1330.9,1597.6 1324.7,1608.1 1337.1,1608.1"/><polygon points="1341.3,1518.2 1335.1,1528.7 1347.5,1528.7"/><polygon points="1352.0,1506.5 1345.8,1517.0 1358.2,1517.0"/><polygon points="1362.9,1521.3 1356.7,1531.8 1369.1,1531.8"/><polygon points="1373.3,1566.4 1367.1,1576.9 1379.5,1576.9"/><polygon points="1383.8,1612.0 1377.6,1622.5 1390.0,1622.5"/><polygon points="1394.2,1773.4 1388.0,1783.9 1400.4,1783.9"/><polygon points="1405.1,1711.4 1398.9,1721.9 1411.3,1721.9"/></g>
<path d="M843.1 1521.8 L853.2 1563.5 L863.9 1495.3 L873.5 1494.5 L885.3 1516.1 L896.2 1523.1M949.1 1509.6 L959.5 1479.1 L969.9 1514.3 L980.8 1484.1 L991.2 1448.4 L1001.9 1509.6 L1012.3 1533.0 L1023.5 1520.5M1150.2 1695.8 L1161.1 1574.7 L1171.5 1498.6M1203.3 1466.6 L1214.0 1475.2 L1224.4 1490.8 L1235.3 1505.7 L1245.7 1564.3 L1256.1 1546.0 L1267.1 1521.3 L1277.5 1553.3 L1288.2 1492.7 L1298.6 1483.5 L1309.5 1510.9 L1319.9 1477.8 L1330.9 1471.8 L1341.3 1522.1M1362.4 1574.7 L1373.3 1509.6 L1383.8 1611.7 L1394.2 1742.7 L1405.1 1614.3" fill="none" stroke="#000" stroke-width="2.7" stroke-linejoin="round" stroke-linecap="round"/>
<g fill="#000"><polygon points="800.6,1592.3 802.1,1596.0 806.1,1596.3 803.1,1598.9 804.0,1602.8 800.6,1600.7 797.2,1602.8 798.1,1598.9 795.1,1596.3 799.1,1596.0"/><polygon points="822.0,1528.5 823.5,1532.2 827.5,1532.5 824.5,1535.1 825.4,1539.0 822.0,1536.9 818.6,1539.0 819.5,1535.1 816.5,1532.5 820.5,1532.2"/><polygon points="843.1,1516.0 844.6,1519.7 848.6,1520.0 845.6,1522.6 846.5,1526.5 843.1,1524.4 839.7,1526.5 840.6,1522.6 837.6,1520.0 841.6,1519.7"/><polygon points="853.2,1557.8 854.7,1561.4 858.7,1561.7 855.7,1564.3 856.6,1568.2 853.2,1566.1 849.8,1568.2 850.7,1564.3 847.7,1561.7 851.7,1561.4"/><polygon points="863.9,1489.5 865.4,1493.2 869.4,1493.5 866.4,1496.1 867.3,1500.0 863.9,1497.9 860.5,1500.0 861.4,1496.1 858.4,1493.5 862.4,1493.2"/><polygon points="873.5,1488.8 875.0,1492.4 879.0,1492.7 876.0,1495.3 876.9,1499.2 873.5,1497.1 870.1,1499.2 871.0,1495.3 868.0,1492.7 872.0,1492.4"/><polygon points="885.3,1510.3 886.8,1514.0 890.8,1514.3 887.8,1516.9 888.7,1520.8 885.3,1518.7 881.9,1520.8 882.8,1516.9 879.8,1514.3 883.8,1514.0"/><polygon points="896.2,1517.3 897.7,1521.0 901.7,1521.3 898.7,1523.9 899.6,1527.8 896.2,1525.7 892.8,1527.8 893.7,1523.9 890.7,1521.3 894.7,1521.0"/><polygon points="917.3,1496.0 918.8,1499.7 922.8,1500.0 919.8,1502.6 920.7,1506.5 917.3,1504.4 913.9,1506.5 914.8,1502.6 911.8,1500.0 915.8,1499.7"/><polygon points="949.1,1503.8 950.6,1507.5 954.6,1507.8 951.6,1510.4 952.5,1514.3 949.1,1512.2 945.7,1514.3 946.6,1510.4 943.6,1507.8 947.6,1507.5"/><polygon points="959.5,1473.3 961.0,1477.0 965.0,1477.3 962.0,1479.9 962.9,1483.8 959.5,1481.7 956.1,1483.8 957.0,1479.9 954.0,1477.3 958.0,1477.0"/><polygon points="969.9,1508.5 971.4,1512.2 975.4,1512.5 972.4,1515.1 973.3,1519.0 969.9,1516.9 966.5,1519.0 967.4,1515.1 964.4,1512.5 968.4,1512.2"/><polygon points="980.8,1478.3 982.3,1482.0 986.3,1482.3 983.3,1484.9 984.2,1488.8 980.8,1486.7 977.4,1488.8 978.3,1484.9 975.3,1482.3 979.3,1482.0"/><polygon points="991.2,1442.7 992.7,1446.3 996.7,1446.6 993.7,1449.2 994.6,1453.1 991.2,1451.0 987.8,1453.1 988.7,1449.2 985.7,1446.6 989.7,1446.3"/><polygon points="1001.9,1503.8 1003.4,1507.5 1007.4,1507.8 1004.4,1510.4 1005.3,1514.3 1001.9,1512.2 998.5,1514.3 999.4,1510.4 996.4,1507.8 1000.4,1507.5"/><polygon points="1012.3,1527.2 1013.8,1530.9 1017.8,1531.2 1014.8,1533.8 1015.7,1537.7 1012.3,1535.6 1008.9,1537.7 1009.8,1533.8 1006.8,1531.2 1010.8,1530.9"/><polygon points="1023.5,1514.8 1025.0,1518.4 1029.0,1518.7 1026.0,1521.3 1026.9,1525.2 1023.5,1523.1 1020.1,1525.2 1021.0,1521.3 1018.0,1518.7 1022.0,1518.4"/><polygon points="1044.6,1485.7 1046.1,1489.3 1050.1,1489.6 1047.1,1492.2 1048.0,1496.1 1044.6,1494.0 1041.2,1496.1 1042.1,1492.2 1039.1,1489.6 1043.1,1489.3"/><polygon points="1065.5,1427.0 1067.0,1430.7 1071.0,1431.0 1068.0,1433.6 1068.9,1437.5 1065.5,1435.4 1062.1,1437.5 1063.0,1433.6 1060.0,1431.0 1064.0,1430.7"/><polygon points="1150.2,1690.0 1151.7,1693.7 1155.7,1694.0 1152.7,1696.6 1153.6,1700.5 1150.2,1698.4 1146.8,1700.5 1147.7,1696.6 1144.7,1694.0 1148.7,1693.7"/><polygon points="1161.1,1569.0 1162.6,1572.6 1166.6,1572.9 1163.6,1575.5 1164.5,1579.4 1161.1,1577.3 1157.7,1579.4 1158.6,1575.5 1155.6,1572.9 1159.6,1572.6"/><polygon points="1171.5,1492.8 1173.0,1496.5 1177.0,1496.8 1174.0,1499.4 1174.9,1503.3 1171.5,1501.2 1168.1,1503.3 1169.0,1499.4 1166.0,1496.8 1170.0,1496.5"/><polygon points="1203.3,1460.8 1204.8,1464.5 1208.8,1464.8 1205.8,1467.4 1206.7,1471.3 1203.3,1469.2 1199.9,1471.3 1200.8,1467.4 1197.8,1464.8 1201.8,1464.5"/><polygon points="1214.0,1469.5 1215.5,1473.1 1219.5,1473.4 1216.5,1476.0 1217.4,1479.9 1214.0,1477.8 1210.6,1479.9 1211.5,1476.0 1208.5,1473.4 1212.5,1473.1"/><polygon points="1224.4,1485.0 1225.9,1488.7 1229.9,1489.0 1226.9,1491.6 1227.8,1495.5 1224.4,1493.4 1221.0,1495.5 1221.9,1491.6 1218.9,1489.0 1222.9,1488.7"/><polygon points="1235.3,1500.0 1236.8,1503.6 1240.8,1503.9 1237.8,1506.5 1238.7,1510.4 1235.3,1508.3 1231.9,1510.4 1232.8,1506.5 1229.8,1503.9 1233.8,1503.6"/><polygon points="1245.7,1558.5 1247.2,1562.2 1251.2,1562.5 1248.2,1565.1 1249.1,1569.0 1245.7,1566.9 1242.3,1569.0 1243.2,1565.1 1240.2,1562.5 1244.2,1562.2"/><polygon points="1256.1,1540.2 1257.6,1543.9 1261.6,1544.2 1258.6,1546.8 1259.5,1550.7 1256.1,1548.6 1252.7,1550.7 1253.6,1546.8 1250.6,1544.2 1254.6,1543.9"/><polygon points="1267.1,1515.5 1268.6,1519.2 1272.6,1519.5 1269.6,1522.1 1270.5,1526.0 1267.1,1523.9 1263.7,1526.0 1264.6,1522.1 1261.6,1519.5 1265.6,1519.2"/><polygon points="1277.5,1547.5 1279.0,1551.2 1283.0,1551.5 1280.0,1554.1 1280.9,1558.0 1277.5,1555.9 1274.1,1558.0 1275.0,1554.1 1272.0,1551.5 1276.0,1551.2"/><polygon points="1288.2,1487.0 1289.7,1490.6 1293.7,1490.9 1290.7,1493.5 1291.6,1497.4 1288.2,1495.3 1284.8,1497.4 1285.7,1493.5 1282.7,1490.9 1286.7,1490.6"/><polygon points="1298.6,1477.8 1300.1,1481.4 1304.1,1481.7 1301.1,1484.3 1302.0,1488.2 1298.6,1486.1 1295.2,1488.2 1296.1,1484.3 1293.1,1481.7 1297.1,1481.4"/><polygon points="1309.5,1505.2 1311.0,1508.8 1315.0,1509.1 1312.0,1511.7 1312.9,1515.6 1309.5,1513.5 1306.1,1515.6 1307.0,1511.7 1304.0,1509.1 1308.0,1508.8"/><polygon points="1319.9,1472.0 1321.4,1475.7 1325.4,1476.0 1322.4,1478.6 1323.3,1482.5 1319.9,1480.4 1316.5,1482.5 1317.4,1478.6 1314.4,1476.0 1318.4,1475.7"/><polygon points="1330.9,1466.0 1332.4,1469.7 1336.4,1470.0 1333.4,1472.6 1334.3,1476.5 1330.9,1474.4 1327.5,1476.5 1328.4,1472.6 1325.4,1470.0 1329.4,1469.7"/><polygon points="1341.3,1516.3 1342.8,1520.0 1346.8,1520.3 1343.8,1522.9 1344.7,1526.8 1341.3,1524.7 1337.9,1526.8 1338.8,1522.9 1335.8,1520.3 1339.8,1520.0"/><polygon points="1362.4,1569.0 1363.9,1572.6 1367.9,1572.9 1364.9,1575.5 1365.8,1579.4 1362.4,1577.3 1359.0,1579.4 1359.9,1575.5 1356.9,1572.9 1360.9,1572.6"/><polygon points="1373.3,1503.8 1374.8,1507.5 1378.8,1507.8 1375.8,1510.4 1376.7,1514.3 1373.3,1512.2 1369.9,1514.3 1370.8,1510.4 1367.8,1507.8 1371.8,1507.5"/><polygon points="1383.8,1606.0 1385.3,1609.6 1389.3,1609.9 1386.3,1612.5 1387.2,1616.4 1383.8,1614.3 1380.4,1616.4 1381.3,1612.5 1378.3,1609.9 1382.3,1609.6"/><polygon points="1394.2,1737.0 1395.7,1740.6 1399.7,1740.9 1396.7,1743.5 1397.6,1747.4 1394.2,1745.3 1390.8,1747.4 1391.7,1743.5 1388.7,1740.9 1392.7,1740.6"/><polygon points="1405.1,1608.5 1406.6,1612.2 1410.6,1612.5 1407.6,1615.1 1408.5,1619.0 1405.1,1616.9 1401.7,1619.0 1402.6,1615.1 1399.6,1612.5 1403.6,1612.2"/></g>
<path d="M843.1 1849.4 L852.7 1878.1 L863.9 1887.7 L874.3 1893.7 L885.3 1831.2 L895.7 1844.2M949.1 1852.0 L959.5 1806.5 L969.9 1850.7 L980.3 1820.0 L991.2 1816.4 L1001.9 1853.9 L1012.3 1869.0 L1024.1 1863.2M1150.2 2025.7 L1161.1 1907.2 L1171.5 1855.4M1203.3 1866.9 L1214.0 1882.0 L1224.4 1872.1 L1234.0 1872.1 L1245.7 1876.2 L1256.1 1879.9 L1267.1 1925.5 L1277.0 1881.2 L1288.2 1884.6 L1298.6 1929.4 L1309.5 1879.9 L1319.9 1921.8 L1330.6 2071.4 L1340.8 1876.0 L1352.0 1891.9 L1362.4 1909.3 L1372.8 1873.4 L1383.8 1853.9 L1394.2 1802.6 L1405.1 1903.3" fill="none" stroke="#008080" stroke-width="2.7" stroke-linejoin="round" stroke-linecap="round"/>
<g fill="#008080"><polygon points="800.6,1876.3 794.4,1886.8 806.8,1886.8"/><polygon points="822.0,1888.5 815.8,1899.0 828.2,1899.0"/><polygon points="843.1,1842.4 836.9,1852.9 849.3,1852.9"/><polygon points="852.7,1871.1 846.5,1881.6 858.9,1881.6"/><polygon points="863.9,1880.7 857.7,1891.2 870.1,1891.2"/><polygon points="874.3,1886.7 868.1,1897.2 880.5,1897.2"/><polygon points="885.3,1824.2 879.1,1834.7 891.5,1834.7"/><polygon points="895.7,1837.2 889.5,1847.7 901.9,1847.7"/><polygon points="917.3,1928.4 911.1,1938.9 923.5,1938.9"/><polygon points="949.1,1845.0 942.9,1855.5 955.3,1855.5"/><polygon points="959.5,1799.5 953.3,1810.0 965.7,1810.0"/><polygon points="969.9,1843.7 963.7,1854.2 976.1,1854.2"/><polygon points="980.3,1813.0 974.1,1823.5 986.5,1823.5"/><polygon points="991.2,1809.4 985.0,1819.9 997.4,1819.9"/><polygon points="1001.9,1846.9 995.7,1857.4 1008.1,1857.4"/><polygon points="1012.3,1862.0 1006.1,1872.5 1018.5,1872.5"/><polygon points="1024.1,1856.2 1017.9,1866.7 1030.3,1866.7"/><polygon points="1044.6,1841.1 1038.4,1851.6 1050.8,1851.6"/><polygon points="1065.5,1826.8 1059.3,1837.3 1071.7,1837.3"/><polygon points="1150.2,2018.7 1144.0,2029.2 1156.4,2029.2"/><polygon points="1161.1,1900.2 1154.9,1910.7 1167.3,1910.7"/><polygon points="1171.5,1848.4 1165.3,1858.9 1177.7,1858.9"/><polygon points="1203.3,1859.9 1197.1,1870.4 1209.5,1870.4"/><polygon points="1214.0,1875.0 1207.8,1885.5 1220.2,1885.5"/><polygon points="1224.4,1865.1 1218.2,1875.6 1230.6,1875.6"/><polygon points="1234.0,1865.1 1227.8,1875.6 1240.2,1875.6"/><polygon points="1245.7,1869.2 1239.5,1879.7 1251.9,1879.7"/><polygon points="1256.1,1872.9 1249.9,1883.4 1262.3,1883.4"/><polygon points="1267.1,1918.5 1260.9,1929.0 1273.3,1929.0"/><polygon points="1277.0,1874.2 1270.8,1884.7 1283.2,1884.7"/><polygon points="1288.2,1877.6 1282.0,1888.1 1294.4,1888.1"/><polygon points="1298.6,1922.4 1292.4,1932.9 1304.8,1932.9"/><polygon points="1309.5,1872.9 1303.3,1883.4 1315.7,1883.4"/><polygon points="1319.9,1914.8 1313.7,1925.3 1326.1,1925.3"/><polygon points="1330.6,2064.4 1324.4,2074.9 1336.8,2074.9"/><polygon points="1340.8,1869.0 1334.6,1879.5 1347.0,1879.5"/><polygon points="1352.0,1884.9 1345.8,1895.4 1358.2,1895.4"/><polygon points="1362.4,1902.3 1356.2,1912.8 1368.6,1912.8"/><polygon points="1372.8,1866.4 1366.6,1876.9 1379.0,1876.9"/><polygon points="1383.8,1846.9 1377.6,1857.4 1390.0,1857.4"/><polygon points="1394.2,1795.6 1388.0,1806.1 1400.4,1806.1"/><polygon points="1405.1,1896.3 1398.9,1906.8 1411.3,1906.8"/></g>
<path d="M843.1 1744.5 L853.2 1898.1 L863.9 1844.7 L874.3 1842.9 L885.3 1829.4 L896.2 1844.2M949.1 1831.2 L959.5 1837.7 L969.9 1848.1 L980.8 1831.2 L991.2 1857.2 L1001.9 1853.3 L1012.3 1873.4 L1024.1 1862.4M1150.2 1989.3 L1161.1 1898.1 L1171.5 1846.3M1203.3 1826.0 L1214.0 1859.3 L1224.4 1839.0 L1235.3 1860.6 L1245.7 1954.4 L1256.1 1904.6 L1267.1 1915.8 L1277.5 1897.6 L1288.2 1861.7 L1298.6 1859.8 L1309.5 1863.0 L1319.9 2026.5 L1330.9 1952.3 L1341.3 1865.6M1362.4 1864.3 L1373.3 1858.5 L1383.8 1924.9 L1394.2 2035.6 L1405.1 1930.7" fill="none" stroke="#000" stroke-width="2.7" stroke-linejoin="round" stroke-linecap="round"/>
<g fill="#000"><polygon points="800.6,1940.0 802.1,1943.7 806.1,1944.0 803.1,1946.6 804.0,1950.5 800.6,1948.4 797.2,1950.5 798.1,1946.6 795.1,1944.0 799.1,1943.7"/><polygon points="822.0,1881.5 823.5,1885.1 827.5,1885.4 824.5,1888.0 825.4,1891.9 822.0,1889.8 818.6,1891.9 819.5,1888.0 816.5,1885.4 820.5,1885.1"/><polygon points="843.1,1738.8 844.6,1742.4 848.6,1742.7 845.6,1745.3 846.5,1749.2 843.1,1747.1 839.7,1749.2 840.6,1745.3 837.6,1742.7 841.6,1742.4"/><polygon points="853.2,1892.3 854.7,1896.0 858.7,1896.3 855.7,1898.9 856.6,1902.8 853.2,1900.7 849.8,1902.8 850.7,1898.9 847.7,1896.3 851.7,1896.0"/><polygon points="863.9,1839.0 865.4,1842.6 869.4,1842.9 866.4,1845.5 867.3,1849.4 863.9,1847.3 860.5,1849.4 861.4,1845.5 858.4,1842.9 862.4,1842.6"/><polygon points="874.3,1837.2 875.8,1840.8 879.8,1841.1 876.8,1843.7 877.7,1847.6 874.3,1845.5 870.9,1847.6 871.8,1843.7 868.8,1841.1 872.8,1840.8"/><polygon points="885.3,1823.7 886.8,1827.3 890.8,1827.6 887.8,1830.2 888.7,1834.1 885.3,1832.0 881.9,1834.1 882.8,1830.2 879.8,1827.6 883.8,1827.3"/><polygon points="896.2,1838.5 897.7,1842.1 901.7,1842.4 898.7,1845.0 899.6,1848.9 896.2,1846.8 892.8,1848.9 893.7,1845.0 890.7,1842.4 894.7,1842.1"/><polygon points="917.3,1837.2 918.8,1840.8 922.8,1841.1 919.8,1843.7 920.7,1847.6 917.3,1845.5 913.9,1847.6 914.8,1843.7 911.8,1841.1 915.8,1840.8"/><polygon points="949.1,1825.5 950.6,1829.1 954.6,1829.4 951.6,1832.0 952.5,1835.9 949.1,1833.8 945.7,1835.9 946.6,1832.0 943.6,1829.4 947.6,1829.1"/><polygon points="959.5,1832.0 961.0,1835.6 965.0,1835.9 962.0,1838.5 962.9,1842.4 959.5,1840.3 956.1,1842.4 957.0,1838.5 954.0,1835.9 958.0,1835.6"/><polygon points="969.9,1842.3 971.4,1846.0 975.4,1846.3 972.4,1848.9 973.3,1852.8 969.9,1850.7 966.5,1852.8 967.4,1848.9 964.4,1846.3 968.4,1846.0"/><polygon points="980.8,1825.5 982.3,1829.1 986.3,1829.4 983.3,1832.0 984.2,1835.9 980.8,1833.8 977.4,1835.9 978.3,1832.0 975.3,1829.4 979.3,1829.1"/><polygon points="991.2,1851.5 992.7,1855.1 996.7,1855.4 993.7,1858.0 994.6,1861.9 991.2,1859.8 987.8,1861.9 988.7,1858.0 985.7,1855.4 989.7,1855.1"/><polygon points="1001.9,1847.5 1003.4,1851.2 1007.4,1851.5 1004.4,1854.1 1005.3,1858.0 1001.9,1855.9 998.5,1858.0 999.4,1854.1 996.4,1851.5 1000.4,1851.2"/><polygon points="1012.3,1867.7 1013.8,1871.3 1017.8,1871.6 1014.8,1874.2 1015.7,1878.1 1012.3,1876.0 1008.9,1878.1 1009.8,1874.2 1006.8,1871.6 1010.8,1871.3"/><polygon points="1024.1,1856.7 1025.6,1860.3 1029.6,1860.6 1026.6,1863.2 1027.5,1867.1 1024.1,1865.0 1020.7,1867.1 1021.6,1863.2 1018.6,1860.6 1022.6,1860.3"/><polygon points="1044.6,1842.3 1046.1,1846.0 1050.1,1846.3 1047.1,1848.9 1048.0,1852.8 1044.6,1850.7 1041.2,1852.8 1042.1,1848.9 1039.1,1846.3 1043.1,1846.0"/><polygon points="1065.5,1825.5 1067.0,1829.1 1071.0,1829.4 1068.0,1832.0 1068.9,1835.9 1065.5,1833.8 1062.1,1835.9 1063.0,1832.0 1060.0,1829.4 1064.0,1829.1"/><polygon points="1150.2,1983.5 1151.7,1987.2 1155.7,1987.5 1152.7,1990.1 1153.6,1994.0 1150.2,1991.9 1146.8,1994.0 1147.7,1990.1 1144.7,1987.5 1148.7,1987.2"/><polygon points="1161.1,1892.3 1162.6,1896.0 1166.6,1896.3 1163.6,1898.9 1164.5,1902.8 1161.1,1900.7 1157.7,1902.8 1158.6,1898.9 1155.6,1896.3 1159.6,1896.0"/><polygon points="1171.5,1840.5 1173.0,1844.2 1177.0,1844.5 1174.0,1847.1 1174.9,1851.0 1171.5,1848.9 1168.1,1851.0 1169.0,1847.1 1166.0,1844.5 1170.0,1844.2"/><polygon points="1203.3,1820.2 1204.8,1823.9 1208.8,1824.2 1205.8,1826.8 1206.7,1830.7 1203.3,1828.6 1199.9,1830.7 1200.8,1826.8 1197.8,1824.2 1201.8,1823.9"/><polygon points="1214.0,1853.5 1215.5,1857.2 1219.5,1857.5 1216.5,1860.1 1217.4,1864.0 1214.0,1861.9 1210.6,1864.0 1211.5,1860.1 1208.5,1857.5 1212.5,1857.2"/><polygon points="1224.4,1833.2 1225.9,1836.9 1229.9,1837.2 1226.9,1839.8 1227.8,1843.7 1224.4,1841.6 1221.0,1843.7 1221.9,1839.8 1218.9,1837.2 1222.9,1836.9"/><polygon points="1235.3,1854.8 1236.8,1858.5 1240.8,1858.8 1237.8,1861.4 1238.7,1865.3 1235.3,1863.2 1231.9,1865.3 1232.8,1861.4 1229.8,1858.8 1233.8,1858.5"/><polygon points="1245.7,1948.7 1247.2,1952.3 1251.2,1952.6 1248.2,1955.2 1249.1,1959.1 1245.7,1957.0 1242.3,1959.1 1243.2,1955.2 1240.2,1952.6 1244.2,1952.3"/><polygon points="1256.1,1898.8 1257.6,1902.5 1261.6,1902.8 1258.6,1905.4 1259.5,1909.3 1256.1,1907.2 1252.7,1909.3 1253.6,1905.4 1250.6,1902.8 1254.6,1902.5"/><polygon points="1267.1,1910.0 1268.6,1913.7 1272.6,1914.0 1269.6,1916.6 1270.5,1920.5 1267.1,1918.4 1263.7,1920.5 1264.6,1916.6 1261.6,1914.0 1265.6,1913.7"/><polygon points="1277.5,1891.8 1279.0,1895.5 1283.0,1895.8 1280.0,1898.4 1280.9,1902.3 1277.5,1900.2 1274.1,1902.3 1275.0,1898.4 1272.0,1895.8 1276.0,1895.5"/><polygon points="1288.2,1856.0 1289.7,1859.6 1293.7,1859.9 1290.7,1862.5 1291.6,1866.4 1288.2,1864.3 1284.8,1866.4 1285.7,1862.5 1282.7,1859.9 1286.7,1859.6"/><polygon points="1298.6,1854.0 1300.1,1857.7 1304.1,1858.0 1301.1,1860.6 1302.0,1864.5 1298.6,1862.4 1295.2,1864.5 1296.1,1860.6 1293.1,1858.0 1297.1,1857.7"/><polygon points="1309.5,1857.2 1311.0,1860.9 1315.0,1861.2 1312.0,1863.8 1312.9,1867.7 1309.5,1865.6 1306.1,1867.7 1307.0,1863.8 1304.0,1861.2 1308.0,1860.9"/><polygon points="1319.9,2020.8 1321.4,2024.4 1325.4,2024.7 1322.4,2027.3 1323.3,2031.2 1319.9,2029.1 1316.5,2031.2 1317.4,2027.3 1314.4,2024.7 1318.4,2024.4"/><polygon points="1330.9,1946.5 1332.4,1950.2 1336.4,1950.5 1333.4,1953.1 1334.3,1957.0 1330.9,1954.9 1327.5,1957.0 1328.4,1953.1 1325.4,1950.5 1329.4,1950.2"/><polygon points="1341.3,1859.8 1342.8,1863.5 1346.8,1863.8 1343.8,1866.4 1344.7,1870.3 1341.3,1868.2 1337.9,1870.3 1338.8,1866.4 1335.8,1863.8 1339.8,1863.5"/><polygon points="1362.4,1858.5 1363.9,1862.2 1367.9,1862.5 1364.9,1865.1 1365.8,1869.0 1362.4,1866.9 1359.0,1869.0 1359.9,1865.1 1356.9,1862.5 1360.9,1862.2"/><polygon points="1373.3,1852.8 1374.8,1856.4 1378.8,1856.7 1375.8,1859.3 1376.7,1863.2 1373.3,1861.1 1369.9,1863.2 1370.8,1859.3 1367.8,1856.7 1371.8,1856.4"/><polygon points="1383.8,1919.2 1385.3,1922.8 1389.3,1923.1 1386.3,1925.7 1387.2,1929.6 1383.8,1927.5 1380.4,1929.6 1381.3,1925.7 1378.3,1923.1 1382.3,1922.8"/><polygon points="1394.2,2029.8 1395.7,2033.5 1399.7,2033.8 1396.7,2036.4 1397.6,2040.3 1394.2,2038.2 1390.8,2040.3 1391.7,2036.4 1388.7,2033.8 1392.7,2033.5"/><polygon points="1405.1,1925.0 1406.6,1928.6 1410.6,1928.9 1407.6,1931.5 1408.5,1935.4 1405.1,1933.3 1401.7,1935.4 1402.6,1931.5 1399.6,1928.9 1403.6,1928.6"/></g>
<rect x="911.5" y="47.9" width="197.2" height="71.9" fill="#fff" stroke="#000" stroke-width="1.4"/>
<line x1="925.0" x2="967.1" y1="71.8" y2="71.8" stroke="#0000ff" stroke-width="2.7" stroke-linecap="round"/>
<g fill="#0000ff"><polygon points="946.0,64.8 939.8,75.3 952.2,75.3"/></g>
<line x1="925.0" x2="967.1" y1="96.2" y2="96.2" stroke="#000" stroke-width="2.7" stroke-linecap="round"/>
<g fill="#000"><polygon points="946.0,90.5 947.6,94.1 951.5,94.4 948.5,97.0 949.4,100.9 946.0,98.8 942.7,100.9 943.6,97.0 940.6,94.4 944.5,94.1"/></g>
<text x="978.4" y="77.5" font-size="19.4">Gayraca Exp</text>
<text x="978.4" y="102.3" font-size="19.4">Gayraca Shel</text>
<rect x="927.2" y="540.7" width="203.0" height="72.1" fill="#fff" stroke="#000" stroke-width="1.4"/>
<line x1="940.7" x2="982.4" y1="564.7" y2="564.7" stroke="#ff0000" stroke-width="2.7" stroke-linecap="round"/>
<g fill="#ff0000"><polygon points="961.5,557.7 955.3,568.2 967.7,568.2"/></g>
<line x1="940.7" x2="982.4" y1="589" y2="589" stroke="#000" stroke-width="2.7" stroke-linecap="round"/>
<g fill="#000"><polygon points="961.5,583.2 963.1,586.9 967.0,587.2 964.0,589.8 964.9,593.7 961.5,591.6 958.1,593.7 959.1,589.8 956.1,587.2 960.0,586.9"/></g>
<text x="994.3" y="570.8" font-size="19.4">Gayraca Exp</text>
<text x="994.3" y="595.2" font-size="19.4">Gayraca Shel</text>
<rect x="903.6" y="757.9" width="202.7" height="71.3" fill="#fff" stroke="#000" stroke-width="1.4"/>
<line x1="917.5" x2="959.1" y1="781.5" y2="781.5" stroke="#800080" stroke-width="2.7" stroke-linecap="round"/>
<g fill="#800080"><polygon points="938.3,774.5 932.1,785.0 944.5,785.0"/></g>
<line x1="917.5" x2="959.1" y1="805.9" y2="805.9" stroke="#000" stroke-width="2.7" stroke-linecap="round"/>
<g fill="#000"><polygon points="938.3,800.1 939.8,803.8 943.8,804.1 940.8,806.7 941.7,810.6 938.3,808.5 934.9,810.6 935.8,806.7 932.8,804.1 936.8,803.8"/></g>
<text x="970.7" y="787.5" font-size="19.4">Gayraca Exp</text>
<text x="970.7" y="812" font-size="19.4">Gayraca Shel</text>
<rect x="1000.3" y="1327.3" width="201.7" height="71.9" fill="#fff" stroke="#000" stroke-width="1.4"/>
<line x1="1013.6" x2="1055.5" y1="1351.4" y2="1351.4" stroke="#008000" stroke-width="2.7" stroke-linecap="round"/>
<g fill="#008000"><polygon points="1034.6,1344.4 1028.4,1354.9 1040.8,1354.9"/></g>
<line x1="1013.6" x2="1055.5" y1="1376" y2="1376" stroke="#000" stroke-width="2.7" stroke-linecap="round"/>
<g fill="#000"><polygon points="1034.6,1370.2 1036.1,1373.9 1040.0,1374.2 1037.0,1376.8 1037.9,1380.7 1034.6,1378.6 1031.2,1380.7 1032.1,1376.8 1029.1,1374.2 1033.0,1373.9"/></g>
<text x="1067.7" y="1357.7" font-size="19.4">Gayraca Exp</text>
<text x="1067.7" y="1382" font-size="19.4">Gayraca Shel</text>
<rect x="918.3" y="1570.3" width="195.4" height="69.9" fill="#fff" stroke="#000" stroke-width="1.4"/>
<line x1="931.4" x2="972.1" y1="1593.4" y2="1593.4" stroke="#800000" stroke-width="2.7" stroke-linecap="round"/>
<g fill="#800000"><polygon points="951.8,1586.4 945.5,1596.9 958.0,1596.9"/></g>
<line x1="931.4" x2="972.1" y1="1616.9" y2="1616.9" stroke="#000" stroke-width="2.7" stroke-linecap="round"/>
<g fill="#000"><polygon points="951.8,1611.2 953.3,1614.8 957.2,1615.1 954.2,1617.7 955.1,1621.6 951.8,1619.5 948.4,1621.6 949.3,1617.7 946.3,1615.1 950.2,1614.8"/></g>
<text x="983.0" y="1599.4" font-size="18.5">Gayraca Exp</text>
<text x="983.0" y="1622.75" font-size="18.5">Gayraca Shel</text>
<rect x="916.3" y="1994.3" width="202.3" height="71.6" fill="#fff" stroke="#000" stroke-width="1.4"/>
<line x1="929.5" x2="971.8" y1="2018" y2="2018" stroke="#008080" stroke-width="2.7" stroke-linecap="round"/>
<g fill="#008080"><polygon points="950.7,2011.0 944.5,2021.5 956.9,2021.5"/></g>
<line x1="929.5" x2="971.8" y1="2042.3" y2="2042.3" stroke="#000" stroke-width="2.7" stroke-linecap="round"/>
<g fill="#000"><polygon points="950.7,2036.5 952.2,2040.2 956.1,2040.5 953.1,2043.1 954.0,2047.0 950.7,2044.9 947.3,2047.0 948.2,2043.1 945.2,2040.5 949.1,2040.2"/></g>
<text x="983.3" y="2024" font-size="19.4">Gayraca Exp</text>
<text x="983.3" y="2048.3" font-size="19.4">Gayraca Shel</text>
</g>
</svg>
</body></html>
